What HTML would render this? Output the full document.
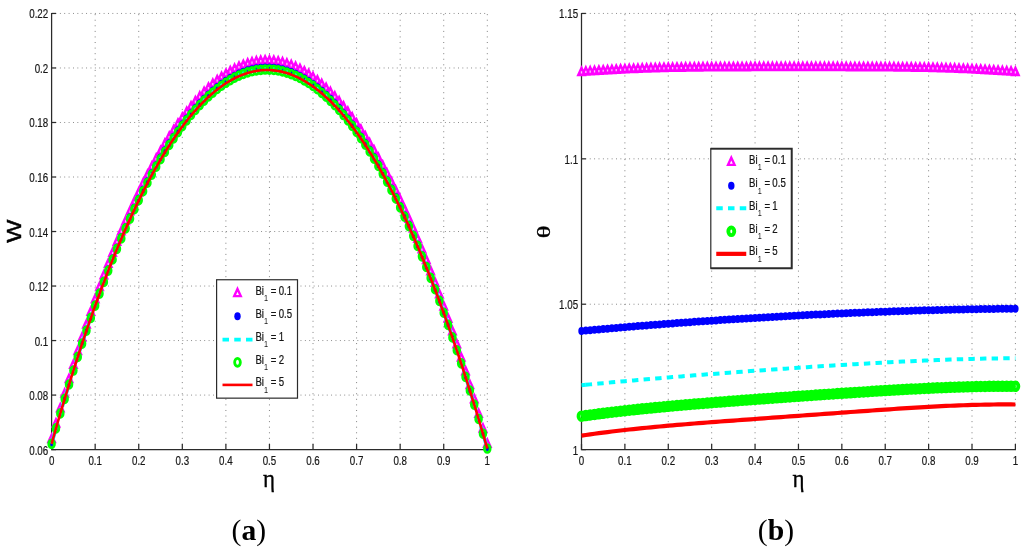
<!DOCTYPE html>
<html lang="en"><head><meta charset="utf-8"><title>Figure</title>
<style>html,body{margin:0;padding:0;background:#fff}body{width:1024px;height:553px;overflow:hidden}svg{display:block}</style></head><body>
<svg width="1024" height="553" viewBox="0 0 1024 553">
<rect width="1024" height="553" fill="#fff"/>
<defs><clipPath id="cl"><rect x="0" y="0" width="1024" height="553"/></clipPath></defs>
<g stroke="#808080" stroke-width="1" stroke-dasharray="1 4.575" fill="none"><line x1="95.17" y1="450" x2="95.17" y2="13.05"/><line x1="138.74" y1="450" x2="138.74" y2="13.05"/><line x1="182.31" y1="450" x2="182.31" y2="13.05"/><line x1="225.88" y1="450" x2="225.88" y2="13.05"/><line x1="269.45" y1="450" x2="269.45" y2="13.05"/><line x1="313.02" y1="450" x2="313.02" y2="13.05"/><line x1="356.59" y1="450" x2="356.59" y2="13.05"/><line x1="400.16" y1="450" x2="400.16" y2="13.05"/><line x1="443.73" y1="450" x2="443.73" y2="13.05"/><line x1="487.3" y1="450" x2="487.3" y2="13.05"/></g>
<g stroke="#808080" stroke-width="1" stroke-dasharray="0.9 3.475" fill="none"><line x1="55.52" y1="13.45" x2="487.7" y2="13.45"/><line x1="55.52" y1="67.97" x2="487.7" y2="67.97"/><line x1="55.52" y1="122.49" x2="487.7" y2="122.49"/><line x1="55.52" y1="177.01" x2="487.7" y2="177.01"/><line x1="55.52" y1="231.53" x2="487.7" y2="231.53"/><line x1="55.52" y1="286.04" x2="487.7" y2="286.04"/><line x1="55.52" y1="340.56" x2="487.7" y2="340.56"/><line x1="55.52" y1="395.08" x2="487.7" y2="395.08"/></g>
<g stroke="#2b2b2b" stroke-width="1.25" fill="none"><path d="M51.6 12.95V449.6H487.9"/><path d="M51.6 449.6v-5.6"/><path d="M95.17 449.6v-5.6"/><path d="M138.74 449.6v-5.6"/><path d="M182.31 449.6v-5.6"/><path d="M225.88 449.6v-5.6"/><path d="M269.45 449.6v-5.6"/><path d="M313.02 449.6v-5.6"/><path d="M356.59 449.6v-5.6"/><path d="M400.16 449.6v-5.6"/><path d="M443.73 449.6v-5.6"/><path d="M487.3 449.6v-5.6"/><path d="M51.6 13.45h4.4"/><path d="M51.6 67.97h4.4"/><path d="M51.6 122.49h4.4"/><path d="M51.6 177.01h4.4"/><path d="M51.6 231.53h4.4"/><path d="M51.6 286.04h4.4"/><path d="M51.6 340.56h4.4"/><path d="M51.6 395.08h4.4"/><path d="M51.6 449.6h4.4"/></g>
<text transform="translate(51.6,465) scale(0.8,1)" font-family="'Liberation Sans', Arial, Helvetica, sans-serif" font-size="12.2" font-weight="normal" text-anchor="middle" fill="#161616" stroke="#161616" stroke-width="0.2">0</text>
<text transform="translate(95.17,465) scale(0.8,1)" font-family="'Liberation Sans', Arial, Helvetica, sans-serif" font-size="12.2" font-weight="normal" text-anchor="middle" fill="#161616" stroke="#161616" stroke-width="0.2">0.1</text>
<text transform="translate(138.74,465) scale(0.8,1)" font-family="'Liberation Sans', Arial, Helvetica, sans-serif" font-size="12.2" font-weight="normal" text-anchor="middle" fill="#161616" stroke="#161616" stroke-width="0.2">0.2</text>
<text transform="translate(182.31,465) scale(0.8,1)" font-family="'Liberation Sans', Arial, Helvetica, sans-serif" font-size="12.2" font-weight="normal" text-anchor="middle" fill="#161616" stroke="#161616" stroke-width="0.2">0.3</text>
<text transform="translate(225.88,465) scale(0.8,1)" font-family="'Liberation Sans', Arial, Helvetica, sans-serif" font-size="12.2" font-weight="normal" text-anchor="middle" fill="#161616" stroke="#161616" stroke-width="0.2">0.4</text>
<text transform="translate(269.45,465) scale(0.8,1)" font-family="'Liberation Sans', Arial, Helvetica, sans-serif" font-size="12.2" font-weight="normal" text-anchor="middle" fill="#161616" stroke="#161616" stroke-width="0.2">0.5</text>
<text transform="translate(313.02,465) scale(0.8,1)" font-family="'Liberation Sans', Arial, Helvetica, sans-serif" font-size="12.2" font-weight="normal" text-anchor="middle" fill="#161616" stroke="#161616" stroke-width="0.2">0.6</text>
<text transform="translate(356.59,465) scale(0.8,1)" font-family="'Liberation Sans', Arial, Helvetica, sans-serif" font-size="12.2" font-weight="normal" text-anchor="middle" fill="#161616" stroke="#161616" stroke-width="0.2">0.7</text>
<text transform="translate(400.16,465) scale(0.8,1)" font-family="'Liberation Sans', Arial, Helvetica, sans-serif" font-size="12.2" font-weight="normal" text-anchor="middle" fill="#161616" stroke="#161616" stroke-width="0.2">0.8</text>
<text transform="translate(443.73,465) scale(0.8,1)" font-family="'Liberation Sans', Arial, Helvetica, sans-serif" font-size="12.2" font-weight="normal" text-anchor="middle" fill="#161616" stroke="#161616" stroke-width="0.2">0.9</text>
<text transform="translate(487.3,465) scale(0.8,1)" font-family="'Liberation Sans', Arial, Helvetica, sans-serif" font-size="12.2" font-weight="normal" text-anchor="middle" fill="#161616" stroke="#161616" stroke-width="0.2">1</text>
<text transform="translate(48.2,18.45) scale(0.8,1)" font-family="'Liberation Sans', Arial, Helvetica, sans-serif" font-size="12.2" font-weight="normal" text-anchor="end" fill="#161616" stroke="#161616" stroke-width="0.2">0.22</text>
<text transform="translate(48.2,72.97) scale(0.8,1)" font-family="'Liberation Sans', Arial, Helvetica, sans-serif" font-size="12.2" font-weight="normal" text-anchor="end" fill="#161616" stroke="#161616" stroke-width="0.2">0.2</text>
<text transform="translate(48.2,127.49) scale(0.8,1)" font-family="'Liberation Sans', Arial, Helvetica, sans-serif" font-size="12.2" font-weight="normal" text-anchor="end" fill="#161616" stroke="#161616" stroke-width="0.2">0.18</text>
<text transform="translate(48.2,182.01) scale(0.8,1)" font-family="'Liberation Sans', Arial, Helvetica, sans-serif" font-size="12.2" font-weight="normal" text-anchor="end" fill="#161616" stroke="#161616" stroke-width="0.2">0.16</text>
<text transform="translate(48.2,236.53) scale(0.8,1)" font-family="'Liberation Sans', Arial, Helvetica, sans-serif" font-size="12.2" font-weight="normal" text-anchor="end" fill="#161616" stroke="#161616" stroke-width="0.2">0.14</text>
<text transform="translate(48.2,291.04) scale(0.8,1)" font-family="'Liberation Sans', Arial, Helvetica, sans-serif" font-size="12.2" font-weight="normal" text-anchor="end" fill="#161616" stroke="#161616" stroke-width="0.2">0.12</text>
<text transform="translate(48.2,345.56) scale(0.8,1)" font-family="'Liberation Sans', Arial, Helvetica, sans-serif" font-size="12.2" font-weight="normal" text-anchor="end" fill="#161616" stroke="#161616" stroke-width="0.2">0.1</text>
<text transform="translate(48.2,400.08) scale(0.8,1)" font-family="'Liberation Sans', Arial, Helvetica, sans-serif" font-size="12.2" font-weight="normal" text-anchor="end" fill="#161616" stroke="#161616" stroke-width="0.2">0.08</text>
<text transform="translate(48.2,454.6) scale(0.8,1)" font-family="'Liberation Sans', Arial, Helvetica, sans-serif" font-size="12.2" font-weight="normal" text-anchor="end" fill="#161616" stroke="#161616" stroke-width="0.2">0.06</text>
<g>
<path d="M51.60 434.83L54.85 441.98L48.35 441.98ZM55.96 419.34L59.21 426.49L52.71 426.49ZM60.31 404.19L63.56 411.34L57.06 411.34ZM64.67 389.38L67.92 396.53L61.42 396.53ZM69.03 374.90L72.28 382.05L65.78 382.05ZM73.39 360.77L76.64 367.92L70.14 367.92ZM77.74 346.97L80.99 354.12L74.49 354.12ZM82.10 333.51L85.35 340.66L78.85 340.66ZM86.46 320.38L89.71 327.53L83.21 327.53ZM90.81 307.58L94.06 314.73L87.56 314.73ZM95.17 295.11L98.42 302.26L91.92 302.26ZM99.53 282.97L102.78 290.12L96.28 290.12ZM103.88 271.17L107.13 278.32L100.63 278.32ZM108.24 259.68L111.49 266.83L104.99 266.83ZM112.60 248.53L115.85 255.68L109.35 255.68ZM116.95 237.70L120.20 244.85L113.70 244.85ZM121.31 227.20L124.56 234.35L118.06 234.35ZM125.67 217.01L128.92 224.16L122.42 224.16ZM130.03 207.15L133.28 214.30L126.78 214.30ZM134.38 197.61L137.63 204.76L131.13 204.76ZM138.74 188.39L141.99 195.54L135.49 195.54ZM143.10 179.49L146.35 186.64L139.85 186.64ZM147.45 170.91L150.70 178.06L144.20 178.06ZM151.81 162.64L155.06 169.79L148.56 169.79ZM156.17 154.69L159.42 161.84L152.92 161.84ZM160.53 147.06L163.78 154.21L157.28 154.21ZM164.88 139.73L168.13 146.88L161.63 146.88ZM169.24 132.73L172.49 139.88L165.99 139.88ZM173.60 126.03L176.85 133.18L170.35 133.18ZM177.95 119.65L181.20 126.80L174.70 126.80ZM182.31 113.57L185.56 120.72L179.06 120.72ZM186.67 107.81L189.92 114.96L183.42 114.96ZM191.02 102.36L194.27 109.51L187.77 109.51ZM195.38 97.21L198.63 104.36L192.13 104.36ZM199.74 92.38L202.99 99.53L196.49 99.53ZM204.09 87.85L207.34 95.00L200.84 95.00ZM208.45 83.62L211.70 90.77L205.20 90.77ZM212.81 79.71L216.06 86.86L209.56 86.86ZM217.17 76.09L220.42 83.24L213.92 83.24ZM221.52 72.79L224.77 79.94L218.27 79.94ZM225.88 69.79L229.13 76.94L222.63 76.94ZM230.24 67.09L233.49 74.24L226.99 74.24ZM234.59 64.69L237.84 71.84L231.34 71.84ZM238.95 62.60L242.20 69.75L235.70 69.75ZM243.31 60.81L246.56 67.96L240.06 67.96ZM247.66 59.32L250.91 66.47L244.41 66.47ZM252.02 58.13L255.27 65.28L248.77 65.28ZM256.38 57.25L259.63 64.40L253.13 64.40ZM260.74 56.66L263.99 63.81L257.49 63.81ZM265.09 56.37L268.34 63.52L261.84 63.52ZM269.45 56.39L272.70 63.54L266.20 63.54ZM273.81 56.70L277.06 63.85L270.56 63.85ZM278.16 57.32L281.41 64.47L274.91 64.47ZM282.52 58.23L285.77 65.38L279.27 65.38ZM286.88 59.44L290.13 66.59L283.63 66.59ZM291.24 60.95L294.49 68.10L287.99 68.10ZM295.59 62.76L298.84 69.91L292.34 69.91ZM299.95 64.87L303.20 72.02L296.70 72.02ZM304.31 67.28L307.56 74.43L301.06 74.43ZM308.66 69.98L311.91 77.13L305.41 77.13ZM313.02 72.99L316.27 80.14L309.77 80.14ZM317.38 76.29L320.63 83.44L314.13 83.44ZM321.73 79.89L324.98 87.04L318.48 87.04ZM326.09 83.78L329.34 90.93L322.84 90.93ZM330.45 87.98L333.70 95.13L327.20 95.13ZM334.81 92.47L338.06 99.62L331.56 99.62ZM339.16 97.27L342.41 104.42L335.91 104.42ZM343.52 102.35L346.77 109.50L340.27 109.50ZM347.88 107.74L351.13 114.89L344.63 114.89ZM352.23 113.43L355.48 120.58L348.98 120.58ZM356.59 119.41L359.84 126.56L353.34 126.56ZM360.95 125.70L364.20 132.85L357.70 132.85ZM365.30 132.28L368.55 139.43L362.05 139.43ZM369.66 139.16L372.91 146.31L366.41 146.31ZM374.02 146.35L377.27 153.50L370.77 153.50ZM378.38 153.83L381.62 160.98L375.12 160.98ZM382.73 161.61L385.98 168.76L379.48 168.76ZM387.09 169.69L390.34 176.84L383.84 176.84ZM391.45 178.07L394.70 185.22L388.20 185.22ZM395.80 186.76L399.05 193.91L392.55 193.91ZM400.16 195.74L403.41 202.89L396.91 202.89ZM404.52 205.03L407.77 212.18L401.27 212.18ZM408.87 214.62L412.12 221.77L405.62 221.77ZM413.23 224.51L416.48 231.66L409.98 231.66ZM417.59 234.71L420.84 241.86L414.34 241.86ZM421.94 245.21L425.19 252.36L418.69 252.36ZM426.30 256.01L429.55 263.16L423.05 263.16ZM430.66 267.12L433.91 274.27L427.41 274.27ZM435.02 278.53L438.27 285.68L431.77 285.68ZM439.37 290.25L442.62 297.40L436.12 297.40ZM443.73 302.28L446.98 309.43L440.48 309.43ZM448.09 314.61L451.34 321.76L444.84 321.76ZM452.44 327.26L455.69 334.41L449.19 334.41ZM456.80 340.21L460.05 347.36L453.55 347.36ZM461.16 353.47L464.41 360.62L457.91 360.62ZM465.52 367.04L468.77 374.19L462.27 374.19ZM469.87 380.92L473.12 388.07L466.62 388.07ZM474.23 395.11L477.48 402.26L470.98 402.26ZM478.59 409.61L481.84 416.76L475.34 416.76ZM482.94 424.43L486.19 431.58L479.69 431.58ZM487.30 439.57L490.55 446.72L484.05 446.72Z" fill="#ff00ff" stroke="#ff00ff" stroke-width="2.4" stroke-linejoin="miter"/>
<path d="M50.95 438.18h1.3v2.2h-1.3zM55.31 422.69h1.3v2.2h-1.3zM59.66 407.54h1.3v2.2h-1.3zM64.02 392.73h1.3v2.2h-1.3zM68.38 378.25h1.3v2.2h-1.3zM72.73 364.12h1.3v2.2h-1.3zM77.09 350.32h1.3v2.2h-1.3zM81.45 336.86h1.3v2.2h-1.3zM85.81 323.73h1.3v2.2h-1.3zM90.16 310.93h1.3v2.2h-1.3zM94.52 298.46h1.3v2.2h-1.3zM98.88 286.32h1.3v2.2h-1.3zM103.23 274.52h1.3v2.2h-1.3zM107.59 263.03h1.3v2.2h-1.3zM111.95 251.88h1.3v2.2h-1.3zM116.30 241.05h1.3v2.2h-1.3zM120.66 230.55h1.3v2.2h-1.3zM125.02 220.36h1.3v2.2h-1.3zM129.38 210.50h1.3v2.2h-1.3zM133.73 200.96h1.3v2.2h-1.3zM138.09 191.74h1.3v2.2h-1.3zM142.45 182.84h1.3v2.2h-1.3zM146.80 174.26h1.3v2.2h-1.3zM151.16 165.99h1.3v2.2h-1.3zM155.52 158.04h1.3v2.2h-1.3zM159.88 150.41h1.3v2.2h-1.3zM164.23 143.08h1.3v2.2h-1.3zM168.59 136.08h1.3v2.2h-1.3zM172.95 129.38h1.3v2.2h-1.3zM177.30 123.00h1.3v2.2h-1.3zM181.66 116.92h1.3v2.2h-1.3zM186.02 111.16h1.3v2.2h-1.3zM190.37 105.71h1.3v2.2h-1.3zM194.73 100.56h1.3v2.2h-1.3zM199.09 95.73h1.3v2.2h-1.3zM203.44 91.20h1.3v2.2h-1.3zM207.80 86.97h1.3v2.2h-1.3zM212.16 83.06h1.3v2.2h-1.3zM216.52 79.44h1.3v2.2h-1.3zM220.87 76.14h1.3v2.2h-1.3zM225.23 73.14h1.3v2.2h-1.3zM229.59 70.44h1.3v2.2h-1.3zM233.94 68.04h1.3v2.2h-1.3zM238.30 65.95h1.3v2.2h-1.3zM242.66 64.16h1.3v2.2h-1.3zM247.01 62.67h1.3v2.2h-1.3zM251.37 61.48h1.3v2.2h-1.3zM255.73 60.60h1.3v2.2h-1.3zM260.09 60.01h1.3v2.2h-1.3zM264.44 59.72h1.3v2.2h-1.3zM268.80 59.74h1.3v2.2h-1.3zM273.16 60.05h1.3v2.2h-1.3zM277.51 60.67h1.3v2.2h-1.3zM281.87 61.58h1.3v2.2h-1.3zM286.23 62.79h1.3v2.2h-1.3zM290.59 64.30h1.3v2.2h-1.3zM294.94 66.11h1.3v2.2h-1.3zM299.30 68.22h1.3v2.2h-1.3zM303.66 70.63h1.3v2.2h-1.3zM308.01 73.33h1.3v2.2h-1.3zM312.37 76.34h1.3v2.2h-1.3zM316.73 79.64h1.3v2.2h-1.3zM321.08 83.24h1.3v2.2h-1.3zM325.44 87.13h1.3v2.2h-1.3zM329.80 91.33h1.3v2.2h-1.3zM334.16 95.82h1.3v2.2h-1.3zM338.51 100.62h1.3v2.2h-1.3zM342.87 105.70h1.3v2.2h-1.3zM347.23 111.09h1.3v2.2h-1.3zM351.58 116.78h1.3v2.2h-1.3zM355.94 122.76h1.3v2.2h-1.3zM360.30 129.05h1.3v2.2h-1.3zM364.65 135.63h1.3v2.2h-1.3zM369.01 142.51h1.3v2.2h-1.3zM373.37 149.70h1.3v2.2h-1.3zM377.73 157.18h1.3v2.2h-1.3zM382.08 164.96h1.3v2.2h-1.3zM386.44 173.04h1.3v2.2h-1.3zM390.80 181.42h1.3v2.2h-1.3zM395.15 190.11h1.3v2.2h-1.3zM399.51 199.09h1.3v2.2h-1.3zM403.87 208.38h1.3v2.2h-1.3zM408.22 217.97h1.3v2.2h-1.3zM412.58 227.86h1.3v2.2h-1.3zM416.94 238.06h1.3v2.2h-1.3zM421.30 248.56h1.3v2.2h-1.3zM425.65 259.36h1.3v2.2h-1.3zM430.01 270.47h1.3v2.2h-1.3zM434.37 281.88h1.3v2.2h-1.3zM438.72 293.60h1.3v2.2h-1.3zM443.08 305.63h1.3v2.2h-1.3zM447.44 317.96h1.3v2.2h-1.3zM451.79 330.61h1.3v2.2h-1.3zM456.15 343.56h1.3v2.2h-1.3zM460.51 356.82h1.3v2.2h-1.3zM464.87 370.39h1.3v2.2h-1.3zM469.22 384.27h1.3v2.2h-1.3zM473.58 398.46h1.3v2.2h-1.3zM477.94 412.96h1.3v2.2h-1.3zM482.29 427.78h1.3v2.2h-1.3zM486.65 442.92h1.3v2.2h-1.3z" fill="#ffbcff"/>
<path d="M48.40 443.78a3.20 4.00 0 1 0 6.40 0a3.20 4.00 0 1 0 -6.40 0ZM52.76 428.37a3.20 4.00 0 1 0 6.40 0a3.20 4.00 0 1 0 -6.40 0ZM57.11 413.30a3.20 4.00 0 1 0 6.40 0a3.20 4.00 0 1 0 -6.40 0ZM61.47 398.57a3.20 4.00 0 1 0 6.40 0a3.20 4.00 0 1 0 -6.40 0ZM65.83 384.18a3.20 4.00 0 1 0 6.40 0a3.20 4.00 0 1 0 -6.40 0ZM70.19 370.12a3.20 4.00 0 1 0 6.40 0a3.20 4.00 0 1 0 -6.40 0ZM74.54 356.39a3.20 4.00 0 1 0 6.40 0a3.20 4.00 0 1 0 -6.40 0ZM78.90 343.00a3.20 4.00 0 1 0 6.40 0a3.20 4.00 0 1 0 -6.40 0ZM83.26 329.94a3.20 4.00 0 1 0 6.40 0a3.20 4.00 0 1 0 -6.40 0ZM87.61 317.22a3.20 4.00 0 1 0 6.40 0a3.20 4.00 0 1 0 -6.40 0ZM91.97 304.82a3.20 4.00 0 1 0 6.40 0a3.20 4.00 0 1 0 -6.40 0ZM96.33 292.75a3.20 4.00 0 1 0 6.40 0a3.20 4.00 0 1 0 -6.40 0ZM100.68 281.00a3.20 4.00 0 1 0 6.40 0a3.20 4.00 0 1 0 -6.40 0ZM105.04 269.59a3.20 4.00 0 1 0 6.40 0a3.20 4.00 0 1 0 -6.40 0ZM109.40 258.49a3.20 4.00 0 1 0 6.40 0a3.20 4.00 0 1 0 -6.40 0ZM113.75 247.72a3.20 4.00 0 1 0 6.40 0a3.20 4.00 0 1 0 -6.40 0ZM118.11 237.27a3.20 4.00 0 1 0 6.40 0a3.20 4.00 0 1 0 -6.40 0ZM122.47 227.15a3.20 4.00 0 1 0 6.40 0a3.20 4.00 0 1 0 -6.40 0ZM126.83 217.34a3.20 4.00 0 1 0 6.40 0a3.20 4.00 0 1 0 -6.40 0ZM131.18 207.86a3.20 4.00 0 1 0 6.40 0a3.20 4.00 0 1 0 -6.40 0ZM135.54 198.69a3.20 4.00 0 1 0 6.40 0a3.20 4.00 0 1 0 -6.40 0ZM139.90 189.84a3.20 4.00 0 1 0 6.40 0a3.20 4.00 0 1 0 -6.40 0ZM144.25 181.30a3.20 4.00 0 1 0 6.40 0a3.20 4.00 0 1 0 -6.40 0ZM148.61 173.08a3.20 4.00 0 1 0 6.40 0a3.20 4.00 0 1 0 -6.40 0ZM152.97 165.17a3.20 4.00 0 1 0 6.40 0a3.20 4.00 0 1 0 -6.40 0ZM157.33 157.58a3.20 4.00 0 1 0 6.40 0a3.20 4.00 0 1 0 -6.40 0ZM161.68 150.30a3.20 4.00 0 1 0 6.40 0a3.20 4.00 0 1 0 -6.40 0ZM166.04 143.33a3.20 4.00 0 1 0 6.40 0a3.20 4.00 0 1 0 -6.40 0ZM170.40 136.68a3.20 4.00 0 1 0 6.40 0a3.20 4.00 0 1 0 -6.40 0ZM174.75 130.33a3.20 4.00 0 1 0 6.40 0a3.20 4.00 0 1 0 -6.40 0ZM179.11 124.29a3.20 4.00 0 1 0 6.40 0a3.20 4.00 0 1 0 -6.40 0ZM183.47 118.56a3.20 4.00 0 1 0 6.40 0a3.20 4.00 0 1 0 -6.40 0ZM187.82 113.14a3.20 4.00 0 1 0 6.40 0a3.20 4.00 0 1 0 -6.40 0ZM192.18 108.02a3.20 4.00 0 1 0 6.40 0a3.20 4.00 0 1 0 -6.40 0ZM196.54 103.21a3.20 4.00 0 1 0 6.40 0a3.20 4.00 0 1 0 -6.40 0ZM200.90 98.71a3.20 4.00 0 1 0 6.40 0a3.20 4.00 0 1 0 -6.40 0ZM205.25 94.51a3.20 4.00 0 1 0 6.40 0a3.20 4.00 0 1 0 -6.40 0ZM209.61 90.62a3.20 4.00 0 1 0 6.40 0a3.20 4.00 0 1 0 -6.40 0ZM213.97 87.02a3.20 4.00 0 1 0 6.40 0a3.20 4.00 0 1 0 -6.40 0ZM218.32 83.74a3.20 4.00 0 1 0 6.40 0a3.20 4.00 0 1 0 -6.40 0ZM222.68 80.75a3.20 4.00 0 1 0 6.40 0a3.20 4.00 0 1 0 -6.40 0ZM227.04 78.07a3.20 4.00 0 1 0 6.40 0a3.20 4.00 0 1 0 -6.40 0ZM231.39 75.69a3.20 4.00 0 1 0 6.40 0a3.20 4.00 0 1 0 -6.40 0ZM235.75 73.61a3.20 4.00 0 1 0 6.40 0a3.20 4.00 0 1 0 -6.40 0ZM240.11 71.83a3.20 4.00 0 1 0 6.40 0a3.20 4.00 0 1 0 -6.40 0ZM244.47 70.35a3.20 4.00 0 1 0 6.40 0a3.20 4.00 0 1 0 -6.40 0ZM248.82 69.17a3.20 4.00 0 1 0 6.40 0a3.20 4.00 0 1 0 -6.40 0ZM253.18 68.29a3.20 4.00 0 1 0 6.40 0a3.20 4.00 0 1 0 -6.40 0ZM257.54 67.71a3.20 4.00 0 1 0 6.40 0a3.20 4.00 0 1 0 -6.40 0ZM261.89 67.42a3.20 4.00 0 1 0 6.40 0a3.20 4.00 0 1 0 -6.40 0ZM266.25 67.44a3.20 4.00 0 1 0 6.40 0a3.20 4.00 0 1 0 -6.40 0ZM270.61 67.75a3.20 4.00 0 1 0 6.40 0a3.20 4.00 0 1 0 -6.40 0ZM274.96 68.37a3.20 4.00 0 1 0 6.40 0a3.20 4.00 0 1 0 -6.40 0ZM279.32 69.27a3.20 4.00 0 1 0 6.40 0a3.20 4.00 0 1 0 -6.40 0ZM283.68 70.48a3.20 4.00 0 1 0 6.40 0a3.20 4.00 0 1 0 -6.40 0ZM288.04 71.98a3.20 4.00 0 1 0 6.40 0a3.20 4.00 0 1 0 -6.40 0ZM292.39 73.79a3.20 4.00 0 1 0 6.40 0a3.20 4.00 0 1 0 -6.40 0ZM296.75 75.88a3.20 4.00 0 1 0 6.40 0a3.20 4.00 0 1 0 -6.40 0ZM301.11 78.28a3.20 4.00 0 1 0 6.40 0a3.20 4.00 0 1 0 -6.40 0ZM305.46 80.97a3.20 4.00 0 1 0 6.40 0a3.20 4.00 0 1 0 -6.40 0ZM309.82 83.95a3.20 4.00 0 1 0 6.40 0a3.20 4.00 0 1 0 -6.40 0ZM314.18 87.24a3.20 4.00 0 1 0 6.40 0a3.20 4.00 0 1 0 -6.40 0ZM318.53 90.82a3.20 4.00 0 1 0 6.40 0a3.20 4.00 0 1 0 -6.40 0ZM322.89 94.69a3.20 4.00 0 1 0 6.40 0a3.20 4.00 0 1 0 -6.40 0ZM327.25 98.87a3.20 4.00 0 1 0 6.40 0a3.20 4.00 0 1 0 -6.40 0ZM331.61 103.34a3.20 4.00 0 1 0 6.40 0a3.20 4.00 0 1 0 -6.40 0ZM335.96 108.10a3.20 4.00 0 1 0 6.40 0a3.20 4.00 0 1 0 -6.40 0ZM340.32 113.16a3.20 4.00 0 1 0 6.40 0a3.20 4.00 0 1 0 -6.40 0ZM344.68 118.52a3.20 4.00 0 1 0 6.40 0a3.20 4.00 0 1 0 -6.40 0ZM349.03 124.18a3.20 4.00 0 1 0 6.40 0a3.20 4.00 0 1 0 -6.40 0ZM353.39 130.13a3.20 4.00 0 1 0 6.40 0a3.20 4.00 0 1 0 -6.40 0ZM357.75 136.38a3.20 4.00 0 1 0 6.40 0a3.20 4.00 0 1 0 -6.40 0ZM362.10 142.93a3.20 4.00 0 1 0 6.40 0a3.20 4.00 0 1 0 -6.40 0ZM366.46 149.77a3.20 4.00 0 1 0 6.40 0a3.20 4.00 0 1 0 -6.40 0ZM370.82 156.91a3.20 4.00 0 1 0 6.40 0a3.20 4.00 0 1 0 -6.40 0ZM375.18 164.35a3.20 4.00 0 1 0 6.40 0a3.20 4.00 0 1 0 -6.40 0ZM379.53 172.09a3.20 4.00 0 1 0 6.40 0a3.20 4.00 0 1 0 -6.40 0ZM383.89 180.13a3.20 4.00 0 1 0 6.40 0a3.20 4.00 0 1 0 -6.40 0ZM388.25 188.47a3.20 4.00 0 1 0 6.40 0a3.20 4.00 0 1 0 -6.40 0ZM392.60 197.10a3.20 4.00 0 1 0 6.40 0a3.20 4.00 0 1 0 -6.40 0ZM396.96 206.04a3.20 4.00 0 1 0 6.40 0a3.20 4.00 0 1 0 -6.40 0ZM401.32 215.27a3.20 4.00 0 1 0 6.40 0a3.20 4.00 0 1 0 -6.40 0ZM405.67 224.81a3.20 4.00 0 1 0 6.40 0a3.20 4.00 0 1 0 -6.40 0ZM410.03 234.65a3.20 4.00 0 1 0 6.40 0a3.20 4.00 0 1 0 -6.40 0ZM414.39 244.79a3.20 4.00 0 1 0 6.40 0a3.20 4.00 0 1 0 -6.40 0ZM418.75 255.23a3.20 4.00 0 1 0 6.40 0a3.20 4.00 0 1 0 -6.40 0ZM423.10 265.97a3.20 4.00 0 1 0 6.40 0a3.20 4.00 0 1 0 -6.40 0ZM427.46 277.02a3.20 4.00 0 1 0 6.40 0a3.20 4.00 0 1 0 -6.40 0ZM431.82 288.37a3.20 4.00 0 1 0 6.40 0a3.20 4.00 0 1 0 -6.40 0ZM436.17 300.03a3.20 4.00 0 1 0 6.40 0a3.20 4.00 0 1 0 -6.40 0ZM440.53 311.99a3.20 4.00 0 1 0 6.40 0a3.20 4.00 0 1 0 -6.40 0ZM444.89 324.25a3.20 4.00 0 1 0 6.40 0a3.20 4.00 0 1 0 -6.40 0ZM449.24 336.82a3.20 4.00 0 1 0 6.40 0a3.20 4.00 0 1 0 -6.40 0ZM453.60 349.70a3.20 4.00 0 1 0 6.40 0a3.20 4.00 0 1 0 -6.40 0ZM457.96 362.89a3.20 4.00 0 1 0 6.40 0a3.20 4.00 0 1 0 -6.40 0ZM462.32 376.39a3.20 4.00 0 1 0 6.40 0a3.20 4.00 0 1 0 -6.40 0ZM466.67 390.19a3.20 4.00 0 1 0 6.40 0a3.20 4.00 0 1 0 -6.40 0ZM471.03 404.30a3.20 4.00 0 1 0 6.40 0a3.20 4.00 0 1 0 -6.40 0ZM475.39 418.73a3.20 4.00 0 1 0 6.40 0a3.20 4.00 0 1 0 -6.40 0ZM479.74 433.47a3.20 4.00 0 1 0 6.40 0a3.20 4.00 0 1 0 -6.40 0ZM484.10 448.52a3.20 4.00 0 1 0 6.40 0a3.20 4.00 0 1 0 -6.40 0Z" fill="#0000ff"/>
<path d="M51.60 443.78L55.90 428.95" fill="none" stroke="#00ffff" stroke-width="3.6"/>
<path d="M55.80 428.95L55.96 428.40L60.31 413.35L64.67 398.63L69.03 384.26L73.39 370.22L77.74 356.52L82.10 343.14L86.46 330.10L90.81 317.39L95.17 305.01L99.53 292.96L103.88 281.23L108.24 269.83L112.60 258.75L116.95 248.00L121.31 237.57L125.67 227.46L130.03 217.66L134.38 208.19L138.74 199.04L143.10 190.20L147.45 181.67L151.81 173.47L156.17 165.57L160.53 157.99L164.88 150.72L169.24 143.76L173.60 137.12L177.95 130.78L182.31 124.75L186.67 119.03L191.02 113.61L195.38 108.50L199.74 103.70L204.09 99.20L208.45 95.01L212.81 91.12L217.17 87.54L221.52 84.26L225.88 81.28L230.24 78.60L234.59 76.22L238.95 74.14L243.31 72.37L247.66 70.89L252.02 69.71L256.38 68.83L260.74 68.25L265.09 67.97L269.45 67.99L273.81 68.30L278.16 68.91L282.52 69.82L286.88 71.02L291.24 72.52L295.59 74.32L299.95 76.42L304.31 78.81L308.66 81.49L313.02 84.48L317.38 87.76L321.73 91.33L326.09 95.20L330.45 99.37L334.81 103.83L339.16 108.59L343.52 113.65L347.88 119.00L352.23 124.64L356.59 130.59L360.95 136.83L365.30 143.37L369.66 150.20L374.02 157.33L378.38 164.76L382.73 172.49L387.09 180.52L391.45 188.84L395.80 197.46L400.16 206.39L404.52 215.61L408.87 225.13L413.23 234.96L417.59 245.08L421.94 255.51L426.30 266.24L430.66 277.27L435.02 288.60L439.37 300.24L443.73 312.18L448.09 324.43L452.44 336.98L456.80 349.85L461.16 363.01L465.52 376.49L469.87 390.27L474.23 404.37L478.59 418.77L482.94 433.49L487.30 448.52" fill="none" stroke="#00ffff" stroke-width="3.6" stroke-dasharray="6.4 5.225"/>
<path d="M48.75 443.78a2.85 3.95 0 1 0 5.70 0a2.85 3.95 0 1 0 -5.70 0ZM53.11 428.46a2.85 3.95 0 1 0 5.70 0a2.85 3.95 0 1 0 -5.70 0ZM57.46 413.47a2.85 3.95 0 1 0 5.70 0a2.85 3.95 0 1 0 -5.70 0ZM61.82 398.82a2.85 3.95 0 1 0 5.70 0a2.85 3.95 0 1 0 -5.70 0ZM66.18 384.50a2.85 3.95 0 1 0 5.70 0a2.85 3.95 0 1 0 -5.70 0ZM70.54 370.52a2.85 3.95 0 1 0 5.70 0a2.85 3.95 0 1 0 -5.70 0ZM74.89 356.87a2.85 3.95 0 1 0 5.70 0a2.85 3.95 0 1 0 -5.70 0ZM79.25 343.55a2.85 3.95 0 1 0 5.70 0a2.85 3.95 0 1 0 -5.70 0ZM83.61 330.56a2.85 3.95 0 1 0 5.70 0a2.85 3.95 0 1 0 -5.70 0ZM87.96 317.90a2.85 3.95 0 1 0 5.70 0a2.85 3.95 0 1 0 -5.70 0ZM92.32 305.57a2.85 3.95 0 1 0 5.70 0a2.85 3.95 0 1 0 -5.70 0ZM96.68 293.57a2.85 3.95 0 1 0 5.70 0a2.85 3.95 0 1 0 -5.70 0ZM101.03 281.89a2.85 3.95 0 1 0 5.70 0a2.85 3.95 0 1 0 -5.70 0ZM105.39 270.53a2.85 3.95 0 1 0 5.70 0a2.85 3.95 0 1 0 -5.70 0ZM109.75 259.50a2.85 3.95 0 1 0 5.70 0a2.85 3.95 0 1 0 -5.70 0ZM114.10 248.79a2.85 3.95 0 1 0 5.70 0a2.85 3.95 0 1 0 -5.70 0ZM118.46 238.40a2.85 3.95 0 1 0 5.70 0a2.85 3.95 0 1 0 -5.70 0ZM122.82 228.33a2.85 3.95 0 1 0 5.70 0a2.85 3.95 0 1 0 -5.70 0ZM127.18 218.58a2.85 3.95 0 1 0 5.70 0a2.85 3.95 0 1 0 -5.70 0ZM131.53 209.15a2.85 3.95 0 1 0 5.70 0a2.85 3.95 0 1 0 -5.70 0ZM135.89 200.03a2.85 3.95 0 1 0 5.70 0a2.85 3.95 0 1 0 -5.70 0ZM140.25 191.23a2.85 3.95 0 1 0 5.70 0a2.85 3.95 0 1 0 -5.70 0ZM144.60 182.74a2.85 3.95 0 1 0 5.70 0a2.85 3.95 0 1 0 -5.70 0ZM148.96 174.57a2.85 3.95 0 1 0 5.70 0a2.85 3.95 0 1 0 -5.70 0ZM153.32 166.71a2.85 3.95 0 1 0 5.70 0a2.85 3.95 0 1 0 -5.70 0ZM157.68 159.16a2.85 3.95 0 1 0 5.70 0a2.85 3.95 0 1 0 -5.70 0ZM162.03 151.92a2.85 3.95 0 1 0 5.70 0a2.85 3.95 0 1 0 -5.70 0ZM166.39 144.99a2.85 3.95 0 1 0 5.70 0a2.85 3.95 0 1 0 -5.70 0ZM170.75 138.37a2.85 3.95 0 1 0 5.70 0a2.85 3.95 0 1 0 -5.70 0ZM175.10 132.06a2.85 3.95 0 1 0 5.70 0a2.85 3.95 0 1 0 -5.70 0ZM179.46 126.05a2.85 3.95 0 1 0 5.70 0a2.85 3.95 0 1 0 -5.70 0ZM183.82 120.36a2.85 3.95 0 1 0 5.70 0a2.85 3.95 0 1 0 -5.70 0ZM188.17 114.96a2.85 3.95 0 1 0 5.70 0a2.85 3.95 0 1 0 -5.70 0ZM192.53 109.88a2.85 3.95 0 1 0 5.70 0a2.85 3.95 0 1 0 -5.70 0ZM196.89 105.10a2.85 3.95 0 1 0 5.70 0a2.85 3.95 0 1 0 -5.70 0ZM201.25 100.62a2.85 3.95 0 1 0 5.70 0a2.85 3.95 0 1 0 -5.70 0ZM205.60 96.44a2.85 3.95 0 1 0 5.70 0a2.85 3.95 0 1 0 -5.70 0ZM209.96 92.57a2.85 3.95 0 1 0 5.70 0a2.85 3.95 0 1 0 -5.70 0ZM214.32 89.00a2.85 3.95 0 1 0 5.70 0a2.85 3.95 0 1 0 -5.70 0ZM218.67 85.73a2.85 3.95 0 1 0 5.70 0a2.85 3.95 0 1 0 -5.70 0ZM223.03 82.77a2.85 3.95 0 1 0 5.70 0a2.85 3.95 0 1 0 -5.70 0ZM227.39 80.10a2.85 3.95 0 1 0 5.70 0a2.85 3.95 0 1 0 -5.70 0ZM231.74 77.73a2.85 3.95 0 1 0 5.70 0a2.85 3.95 0 1 0 -5.70 0ZM236.10 75.67a2.85 3.95 0 1 0 5.70 0a2.85 3.95 0 1 0 -5.70 0ZM240.46 73.90a2.85 3.95 0 1 0 5.70 0a2.85 3.95 0 1 0 -5.70 0ZM244.81 72.43a2.85 3.95 0 1 0 5.70 0a2.85 3.95 0 1 0 -5.70 0ZM249.17 71.25a2.85 3.95 0 1 0 5.70 0a2.85 3.95 0 1 0 -5.70 0ZM253.53 70.38a2.85 3.95 0 1 0 5.70 0a2.85 3.95 0 1 0 -5.70 0ZM257.89 69.80a2.85 3.95 0 1 0 5.70 0a2.85 3.95 0 1 0 -5.70 0ZM262.24 69.52a2.85 3.95 0 1 0 5.70 0a2.85 3.95 0 1 0 -5.70 0ZM266.60 69.54a2.85 3.95 0 1 0 5.70 0a2.85 3.95 0 1 0 -5.70 0ZM270.96 69.85a2.85 3.95 0 1 0 5.70 0a2.85 3.95 0 1 0 -5.70 0ZM275.31 70.46a2.85 3.95 0 1 0 5.70 0a2.85 3.95 0 1 0 -5.70 0ZM279.67 71.37a2.85 3.95 0 1 0 5.70 0a2.85 3.95 0 1 0 -5.70 0ZM284.03 72.57a2.85 3.95 0 1 0 5.70 0a2.85 3.95 0 1 0 -5.70 0ZM288.38 74.06a2.85 3.95 0 1 0 5.70 0a2.85 3.95 0 1 0 -5.70 0ZM292.74 75.85a2.85 3.95 0 1 0 5.70 0a2.85 3.95 0 1 0 -5.70 0ZM297.10 77.94a2.85 3.95 0 1 0 5.70 0a2.85 3.95 0 1 0 -5.70 0ZM301.46 80.32a2.85 3.95 0 1 0 5.70 0a2.85 3.95 0 1 0 -5.70 0ZM305.81 83.00a2.85 3.95 0 1 0 5.70 0a2.85 3.95 0 1 0 -5.70 0ZM310.17 85.97a2.85 3.95 0 1 0 5.70 0a2.85 3.95 0 1 0 -5.70 0ZM314.53 89.24a2.85 3.95 0 1 0 5.70 0a2.85 3.95 0 1 0 -5.70 0ZM318.88 92.80a2.85 3.95 0 1 0 5.70 0a2.85 3.95 0 1 0 -5.70 0ZM323.24 96.65a2.85 3.95 0 1 0 5.70 0a2.85 3.95 0 1 0 -5.70 0ZM327.60 100.80a2.85 3.95 0 1 0 5.70 0a2.85 3.95 0 1 0 -5.70 0ZM331.95 105.25a2.85 3.95 0 1 0 5.70 0a2.85 3.95 0 1 0 -5.70 0ZM336.31 109.98a2.85 3.95 0 1 0 5.70 0a2.85 3.95 0 1 0 -5.70 0ZM340.67 115.02a2.85 3.95 0 1 0 5.70 0a2.85 3.95 0 1 0 -5.70 0ZM345.03 120.35a2.85 3.95 0 1 0 5.70 0a2.85 3.95 0 1 0 -5.70 0ZM349.38 125.97a2.85 3.95 0 1 0 5.70 0a2.85 3.95 0 1 0 -5.70 0ZM353.74 131.89a2.85 3.95 0 1 0 5.70 0a2.85 3.95 0 1 0 -5.70 0ZM358.10 138.11a2.85 3.95 0 1 0 5.70 0a2.85 3.95 0 1 0 -5.70 0ZM362.45 144.62a2.85 3.95 0 1 0 5.70 0a2.85 3.95 0 1 0 -5.70 0ZM366.81 151.43a2.85 3.95 0 1 0 5.70 0a2.85 3.95 0 1 0 -5.70 0ZM371.17 158.53a2.85 3.95 0 1 0 5.70 0a2.85 3.95 0 1 0 -5.70 0ZM375.52 165.93a2.85 3.95 0 1 0 5.70 0a2.85 3.95 0 1 0 -5.70 0ZM379.88 173.62a2.85 3.95 0 1 0 5.70 0a2.85 3.95 0 1 0 -5.70 0ZM384.24 181.62a2.85 3.95 0 1 0 5.70 0a2.85 3.95 0 1 0 -5.70 0ZM388.60 189.91a2.85 3.95 0 1 0 5.70 0a2.85 3.95 0 1 0 -5.70 0ZM392.95 198.50a2.85 3.95 0 1 0 5.70 0a2.85 3.95 0 1 0 -5.70 0ZM397.31 207.38a2.85 3.95 0 1 0 5.70 0a2.85 3.95 0 1 0 -5.70 0ZM401.67 216.57a2.85 3.95 0 1 0 5.70 0a2.85 3.95 0 1 0 -5.70 0ZM406.02 226.05a2.85 3.95 0 1 0 5.70 0a2.85 3.95 0 1 0 -5.70 0ZM410.38 235.83a2.85 3.95 0 1 0 5.70 0a2.85 3.95 0 1 0 -5.70 0ZM414.74 245.92a2.85 3.95 0 1 0 5.70 0a2.85 3.95 0 1 0 -5.70 0ZM419.09 256.30a2.85 3.95 0 1 0 5.70 0a2.85 3.95 0 1 0 -5.70 0ZM423.45 266.98a2.85 3.95 0 1 0 5.70 0a2.85 3.95 0 1 0 -5.70 0ZM427.81 277.97a2.85 3.95 0 1 0 5.70 0a2.85 3.95 0 1 0 -5.70 0ZM432.17 289.26a2.85 3.95 0 1 0 5.70 0a2.85 3.95 0 1 0 -5.70 0ZM436.52 300.85a2.85 3.95 0 1 0 5.70 0a2.85 3.95 0 1 0 -5.70 0ZM440.88 312.74a2.85 3.95 0 1 0 5.70 0a2.85 3.95 0 1 0 -5.70 0ZM445.24 324.94a2.85 3.95 0 1 0 5.70 0a2.85 3.95 0 1 0 -5.70 0ZM449.59 337.44a2.85 3.95 0 1 0 5.70 0a2.85 3.95 0 1 0 -5.70 0ZM453.95 350.25a2.85 3.95 0 1 0 5.70 0a2.85 3.95 0 1 0 -5.70 0ZM458.31 363.36a2.85 3.95 0 1 0 5.70 0a2.85 3.95 0 1 0 -5.70 0ZM462.67 376.78a2.85 3.95 0 1 0 5.70 0a2.85 3.95 0 1 0 -5.70 0ZM467.02 390.51a2.85 3.95 0 1 0 5.70 0a2.85 3.95 0 1 0 -5.70 0ZM471.38 404.55a2.85 3.95 0 1 0 5.70 0a2.85 3.95 0 1 0 -5.70 0ZM475.74 418.89a2.85 3.95 0 1 0 5.70 0a2.85 3.95 0 1 0 -5.70 0ZM480.09 433.55a2.85 3.95 0 1 0 5.70 0a2.85 3.95 0 1 0 -5.70 0ZM484.45 448.52a2.85 3.95 0 1 0 5.70 0a2.85 3.95 0 1 0 -5.70 0Z" fill="none" stroke="#00ff00" stroke-width="2.8"/>
<path d="M51.60 443.78L55.96 428.48L60.31 413.51L64.67 398.88L69.03 384.58L73.39 370.62L77.74 356.98L82.10 343.68L86.46 330.71L90.81 318.07L95.17 305.76L99.53 293.77L103.88 282.11L108.24 270.77L112.60 259.75L116.95 249.06L121.31 238.68L125.67 228.63L130.03 218.89L134.38 209.47L138.74 200.36L143.10 191.57L147.45 183.10L151.81 174.93L156.17 167.08L160.53 159.54L164.88 152.32L169.24 145.40L173.60 138.79L177.95 132.48L182.31 126.49L186.67 120.80L191.02 115.41L195.38 110.34L199.74 105.56L204.09 101.09L208.45 96.92L212.81 93.06L217.17 89.49L221.52 86.23L225.88 83.26L230.24 80.60L234.59 78.24L238.95 76.17L243.31 74.41L247.66 72.94L252.02 71.77L256.38 70.90L260.74 70.32L265.09 70.04L269.45 70.06L273.81 70.37L278.16 70.98L282.52 71.88L286.88 73.08L291.24 74.58L295.59 76.36L299.95 78.45L304.31 80.83L308.66 83.50L313.02 86.47L317.38 89.73L321.73 93.28L326.09 97.13L330.45 101.28L334.81 105.72L339.16 110.45L343.52 115.48L347.88 120.80L352.23 126.42L356.59 132.33L360.95 138.53L365.30 145.04L369.66 151.83L374.02 158.93L378.38 166.32L382.73 174.00L387.09 181.98L391.45 190.26L395.80 198.84L400.16 207.71L404.52 216.88L408.87 226.36L413.23 236.13L417.59 246.19L421.94 256.56L426.30 267.23L430.66 278.20L435.02 289.48L439.37 301.05L443.73 312.93L448.09 325.11L452.44 337.59L456.80 350.38L461.16 363.48L465.52 376.88L469.87 390.59L474.23 404.61L478.59 418.93L482.94 433.57L487.30 448.52" fill="none" stroke="#ff0000" stroke-width="2.6" stroke-linejoin="round"/>
</g>
<rect x="216.6" y="279.75" width="80.9" height="118.4" fill="#fff" stroke="#2b2b2b" stroke-width="1.2"/>
<text transform="translate(255.4,295) scale(0.79,1)" font-family="'Liberation Sans', Arial, Helvetica, sans-serif" font-size="12.2" fill="#161616" stroke="#161616" stroke-width="0.25">Bi<tspan dy="6.3" font-size="9.2" stroke="none">1</tspan><tspan dy="-6.3" dx="0.2"> = </tspan><tspan dx="-0.6">0.1</tspan></text>
<path d="M237.50 288.95L240.75 296.10L234.25 296.10Z" fill="#fff" stroke="#ff00ff" stroke-width="2.4"/>
<text transform="translate(255.4,317.6) scale(0.79,1)" font-family="'Liberation Sans', Arial, Helvetica, sans-serif" font-size="12.2" fill="#161616" stroke="#161616" stroke-width="0.25">Bi<tspan dy="6.3" font-size="9.2" stroke="none">1</tspan><tspan dy="-6.3" dx="0.2"> = </tspan><tspan dx="-0.6">0.5</tspan></text>
<path d="M234.30 316.20a3.20 4.00 0 1 0 6.40 0a3.20 4.00 0 1 0 -6.40 0Z" fill="#0000ff"/>
<text transform="translate(255.4,341) scale(0.79,1)" font-family="'Liberation Sans', Arial, Helvetica, sans-serif" font-size="12.2" fill="#161616" stroke="#161616" stroke-width="0.25">Bi<tspan dy="6.3" font-size="9.2" stroke="none">1</tspan><tspan dy="-6.3" dx="0.2"> = </tspan><tspan dx="-0.6">1</tspan></text>
<path d="M222.5 339.6H252.5" stroke="#00ffff" stroke-width="3.6" stroke-dasharray="6.5 5.25" fill="none"/>
<text transform="translate(255.4,363.7) scale(0.79,1)" font-family="'Liberation Sans', Arial, Helvetica, sans-serif" font-size="12.2" fill="#161616" stroke="#161616" stroke-width="0.25">Bi<tspan dy="6.3" font-size="9.2" stroke="none">1</tspan><tspan dy="-6.3" dx="0.2"> = </tspan><tspan dx="-0.6">2</tspan></text>
<path d="M234.65 362.30a2.85 3.95 0 1 0 5.70 0a2.85 3.95 0 1 0 -5.70 0Z" fill="none" stroke="#00ff00" stroke-width="2.8"/>
<text transform="translate(255.4,386.3) scale(0.79,1)" font-family="'Liberation Sans', Arial, Helvetica, sans-serif" font-size="12.2" fill="#161616" stroke="#161616" stroke-width="0.25">Bi<tspan dy="6.3" font-size="9.2" stroke="none">1</tspan><tspan dy="-6.3" dx="0.2"> = </tspan><tspan dx="-0.6">5</tspan></text>
<path d="M222.5 384.9H252.5" stroke="#ff0000" stroke-width="2.6" fill="none"/>
<text transform="translate(269.1,486.9) scale(0.9,1)" font-family="'Liberation Serif', 'Times New Roman', serif" font-size="25.5" font-weight="normal" text-anchor="middle" fill="#000" stroke="#000" stroke-width="0.35">η</text>
<text transform="translate(20.8,231.3) rotate(-90) scale(1,0.8)" font-family="'Liberation Sans', Arial, Helvetica, sans-serif" font-size="24.5" text-anchor="middle" fill="#000" stroke="#000" stroke-width="0.55">W</text>
<text x="248.8" y="540.3" font-family="'Liberation Serif', 'Times New Roman', serif" font-size="29.6" text-anchor="middle" fill="#000">(<tspan font-weight="bold">a</tspan>)</text>
<g stroke="#808080" stroke-width="1" stroke-dasharray="1 4.575" fill="none"><line x1="624.89" y1="450" x2="624.89" y2="13.05"/><line x1="668.28" y1="450" x2="668.28" y2="13.05"/><line x1="711.67" y1="450" x2="711.67" y2="13.05"/><line x1="755.06" y1="450" x2="755.06" y2="13.05"/><line x1="798.45" y1="450" x2="798.45" y2="13.05"/><line x1="841.84" y1="450" x2="841.84" y2="13.05"/><line x1="885.23" y1="450" x2="885.23" y2="13.05"/><line x1="928.62" y1="450" x2="928.62" y2="13.05"/><line x1="972.01" y1="450" x2="972.01" y2="13.05"/><line x1="1015.4" y1="450" x2="1015.4" y2="13.05"/></g>
<g stroke="#808080" stroke-width="1" stroke-dasharray="0.9 3.475" fill="none"><line x1="585.42" y1="13.45" x2="1015.8" y2="13.45"/><line x1="585.42" y1="158.83" x2="1015.8" y2="158.83"/><line x1="585.42" y1="304.22" x2="1015.8" y2="304.22"/></g>
<g stroke="#2b2b2b" stroke-width="1.25" fill="none"><path d="M581.5 12.95V449.6H1016"/><path d="M581.5 449.6v-5.6"/><path d="M624.89 449.6v-5.6"/><path d="M668.28 449.6v-5.6"/><path d="M711.67 449.6v-5.6"/><path d="M755.06 449.6v-5.6"/><path d="M798.45 449.6v-5.6"/><path d="M841.84 449.6v-5.6"/><path d="M885.23 449.6v-5.6"/><path d="M928.62 449.6v-5.6"/><path d="M972.01 449.6v-5.6"/><path d="M1015.4 449.6v-5.6"/><path d="M581.5 13.45h4.4"/><path d="M581.5 158.83h4.4"/><path d="M581.5 304.22h4.4"/><path d="M581.5 449.6h4.4"/></g>
<text transform="translate(581.5,465) scale(0.8,1)" font-family="'Liberation Sans', Arial, Helvetica, sans-serif" font-size="12.2" font-weight="normal" text-anchor="middle" fill="#161616" stroke="#161616" stroke-width="0.2">0</text>
<text transform="translate(624.89,465) scale(0.8,1)" font-family="'Liberation Sans', Arial, Helvetica, sans-serif" font-size="12.2" font-weight="normal" text-anchor="middle" fill="#161616" stroke="#161616" stroke-width="0.2">0.1</text>
<text transform="translate(668.28,465) scale(0.8,1)" font-family="'Liberation Sans', Arial, Helvetica, sans-serif" font-size="12.2" font-weight="normal" text-anchor="middle" fill="#161616" stroke="#161616" stroke-width="0.2">0.2</text>
<text transform="translate(711.67,465) scale(0.8,1)" font-family="'Liberation Sans', Arial, Helvetica, sans-serif" font-size="12.2" font-weight="normal" text-anchor="middle" fill="#161616" stroke="#161616" stroke-width="0.2">0.3</text>
<text transform="translate(755.06,465) scale(0.8,1)" font-family="'Liberation Sans', Arial, Helvetica, sans-serif" font-size="12.2" font-weight="normal" text-anchor="middle" fill="#161616" stroke="#161616" stroke-width="0.2">0.4</text>
<text transform="translate(798.45,465) scale(0.8,1)" font-family="'Liberation Sans', Arial, Helvetica, sans-serif" font-size="12.2" font-weight="normal" text-anchor="middle" fill="#161616" stroke="#161616" stroke-width="0.2">0.5</text>
<text transform="translate(841.84,465) scale(0.8,1)" font-family="'Liberation Sans', Arial, Helvetica, sans-serif" font-size="12.2" font-weight="normal" text-anchor="middle" fill="#161616" stroke="#161616" stroke-width="0.2">0.6</text>
<text transform="translate(885.23,465) scale(0.8,1)" font-family="'Liberation Sans', Arial, Helvetica, sans-serif" font-size="12.2" font-weight="normal" text-anchor="middle" fill="#161616" stroke="#161616" stroke-width="0.2">0.7</text>
<text transform="translate(928.62,465) scale(0.8,1)" font-family="'Liberation Sans', Arial, Helvetica, sans-serif" font-size="12.2" font-weight="normal" text-anchor="middle" fill="#161616" stroke="#161616" stroke-width="0.2">0.8</text>
<text transform="translate(972.01,465) scale(0.8,1)" font-family="'Liberation Sans', Arial, Helvetica, sans-serif" font-size="12.2" font-weight="normal" text-anchor="middle" fill="#161616" stroke="#161616" stroke-width="0.2">0.9</text>
<text transform="translate(1015.4,465) scale(0.8,1)" font-family="'Liberation Sans', Arial, Helvetica, sans-serif" font-size="12.2" font-weight="normal" text-anchor="middle" fill="#161616" stroke="#161616" stroke-width="0.2">1</text>
<text transform="translate(578.1,18.45) scale(0.8,1)" font-family="'Liberation Sans', Arial, Helvetica, sans-serif" font-size="12.2" font-weight="normal" text-anchor="end" fill="#161616" stroke="#161616" stroke-width="0.2">1.15</text>
<text transform="translate(578.1,163.83) scale(0.8,1)" font-family="'Liberation Sans', Arial, Helvetica, sans-serif" font-size="12.2" font-weight="normal" text-anchor="end" fill="#161616" stroke="#161616" stroke-width="0.2">1.1</text>
<text transform="translate(578.1,309.22) scale(0.8,1)" font-family="'Liberation Sans', Arial, Helvetica, sans-serif" font-size="12.2" font-weight="normal" text-anchor="end" fill="#161616" stroke="#161616" stroke-width="0.2">1.05</text>
<text transform="translate(578.1,454.6) scale(0.8,1)" font-family="'Liberation Sans', Arial, Helvetica, sans-serif" font-size="12.2" font-weight="normal" text-anchor="end" fill="#161616" stroke="#161616" stroke-width="0.2">1</text>
<g>
<path d="M581.50 67.85L584.75 75.00L578.25 75.00ZM585.84 67.51L589.09 74.66L582.59 74.66ZM590.18 67.19L593.43 74.34L586.93 74.34ZM594.52 66.88L597.77 74.03L591.27 74.03ZM598.86 66.59L602.11 73.74L595.61 73.74ZM603.20 66.32L606.45 73.47L599.95 73.47ZM607.53 66.06L610.78 73.21L604.28 73.21ZM611.87 65.82L615.12 72.97L608.62 72.97ZM616.21 65.59L619.46 72.74L612.96 72.74ZM620.55 65.37L623.80 72.52L617.30 72.52ZM624.89 65.17L628.14 72.32L621.64 72.32ZM629.23 64.98L632.48 72.13L625.98 72.13ZM633.57 64.81L636.82 71.96L630.32 71.96ZM637.91 64.64L641.16 71.79L634.66 71.79ZM642.25 64.49L645.50 71.64L639.00 71.64ZM646.59 64.34L649.84 71.49L643.34 71.49ZM650.92 64.21L654.17 71.36L647.67 71.36ZM655.26 64.09L658.51 71.24L652.01 71.24ZM659.60 63.97L662.85 71.12L656.35 71.12ZM663.94 63.87L667.19 71.02L660.69 71.02ZM668.28 63.77L671.53 70.92L665.03 70.92ZM672.62 63.68L675.87 70.83L669.37 70.83ZM676.96 63.60L680.21 70.75L673.71 70.75ZM681.30 63.53L684.55 70.68L678.05 70.68ZM685.64 63.46L688.89 70.61L682.39 70.61ZM689.98 63.40L693.23 70.55L686.73 70.55ZM694.31 63.35L697.56 70.50L691.06 70.50ZM698.65 63.30L701.90 70.45L695.40 70.45ZM702.99 63.25L706.24 70.40L699.74 70.40ZM707.33 63.21L710.58 70.36L704.08 70.36ZM711.67 63.18L714.92 70.33L708.42 70.33ZM716.01 63.15L719.26 70.30L712.76 70.30ZM720.35 63.12L723.60 70.27L717.10 70.27ZM724.69 63.10L727.94 70.25L721.44 70.25ZM729.03 63.08L732.28 70.23L725.78 70.23ZM733.37 63.06L736.62 70.21L730.12 70.21ZM737.70 63.05L740.95 70.20L734.45 70.20ZM742.04 63.04L745.29 70.19L738.79 70.19ZM746.38 63.03L749.63 70.18L743.13 70.18ZM750.72 63.02L753.97 70.17L747.47 70.17ZM755.06 63.01L758.31 70.16L751.81 70.16ZM759.40 63.01L762.65 70.16L756.15 70.16ZM763.74 63.01L766.99 70.16L760.49 70.16ZM768.08 63.00L771.33 70.15L764.83 70.15ZM772.42 63.00L775.67 70.15L769.17 70.15ZM776.75 63.00L780.00 70.15L773.50 70.15ZM781.09 63.00L784.34 70.15L777.84 70.15ZM785.43 63.00L788.68 70.15L782.18 70.15ZM789.77 63.00L793.02 70.15L786.52 70.15ZM794.11 63.00L797.36 70.15L790.86 70.15ZM798.45 63.00L801.70 70.15L795.20 70.15ZM802.79 63.00L806.04 70.15L799.54 70.15ZM807.13 63.00L810.38 70.15L803.88 70.15ZM811.47 63.00L814.72 70.15L808.22 70.15ZM815.81 63.00L819.06 70.15L812.56 70.15ZM820.14 63.00L823.39 70.15L816.89 70.15ZM824.48 63.00L827.73 70.15L821.23 70.15ZM828.82 63.00L832.07 70.15L825.57 70.15ZM833.16 63.01L836.41 70.16L829.91 70.16ZM837.50 63.01L840.75 70.16L834.25 70.16ZM841.84 63.01L845.09 70.16L838.59 70.16ZM846.18 63.02L849.43 70.17L842.93 70.17ZM850.52 63.03L853.77 70.18L847.27 70.18ZM854.86 63.04L858.11 70.19L851.61 70.19ZM859.20 63.05L862.45 70.20L855.95 70.20ZM863.53 63.06L866.78 70.21L860.28 70.21ZM867.87 63.08L871.12 70.23L864.62 70.23ZM872.21 63.10L875.46 70.25L868.96 70.25ZM876.55 63.12L879.80 70.27L873.30 70.27ZM880.89 63.15L884.14 70.30L877.64 70.30ZM885.23 63.18L888.48 70.33L881.98 70.33ZM889.57 63.21L892.82 70.36L886.32 70.36ZM893.91 63.25L897.16 70.40L890.66 70.40ZM898.25 63.30L901.50 70.45L895.00 70.45ZM902.59 63.35L905.84 70.50L899.34 70.50ZM906.92 63.40L910.17 70.55L903.67 70.55ZM911.26 63.46L914.51 70.61L908.01 70.61ZM915.60 63.53L918.85 70.68L912.35 70.68ZM919.94 63.60L923.19 70.75L916.69 70.75ZM924.28 63.68L927.53 70.83L921.03 70.83ZM928.62 63.77L931.87 70.92L925.37 70.92ZM932.96 63.87L936.21 71.02L929.71 71.02ZM937.30 63.97L940.55 71.12L934.05 71.12ZM941.64 64.09L944.89 71.24L938.39 71.24ZM945.98 64.21L949.23 71.36L942.73 71.36ZM950.32 64.34L953.57 71.49L947.07 71.49ZM954.65 64.49L957.90 71.64L951.40 71.64ZM958.99 64.64L962.24 71.79L955.74 71.79ZM963.33 64.81L966.58 71.96L960.08 71.96ZM967.67 64.98L970.92 72.13L964.42 72.13ZM972.01 65.17L975.26 72.32L968.76 72.32ZM976.35 65.37L979.60 72.52L973.10 72.52ZM980.69 65.59L983.94 72.74L977.44 72.74ZM985.03 65.82L988.28 72.97L981.78 72.97ZM989.37 66.06L992.62 73.21L986.12 73.21ZM993.70 66.32L996.95 73.47L990.45 73.47ZM998.04 66.59L1001.29 73.74L994.79 73.74ZM1002.38 66.88L1005.63 74.03L999.13 74.03ZM1006.72 67.19L1009.97 74.34L1003.47 74.34ZM1011.06 67.51L1014.31 74.66L1007.81 74.66ZM1015.40 67.85L1018.65 75.00L1012.15 75.00Z" fill="#ff00ff" stroke="#ff00ff" stroke-width="2.4" stroke-linejoin="miter"/>
<path d="M580.85 71.20h1.3v2.2h-1.3zM585.19 70.86h1.3v2.2h-1.3zM589.53 70.54h1.3v2.2h-1.3zM593.87 70.23h1.3v2.2h-1.3zM598.21 69.94h1.3v2.2h-1.3zM602.55 69.67h1.3v2.2h-1.3zM606.88 69.41h1.3v2.2h-1.3zM611.22 69.17h1.3v2.2h-1.3zM615.56 68.94h1.3v2.2h-1.3zM619.90 68.72h1.3v2.2h-1.3zM624.24 68.52h1.3v2.2h-1.3zM628.58 68.33h1.3v2.2h-1.3zM632.92 68.16h1.3v2.2h-1.3zM637.26 67.99h1.3v2.2h-1.3zM641.60 67.84h1.3v2.2h-1.3zM645.94 67.69h1.3v2.2h-1.3zM650.27 67.56h1.3v2.2h-1.3zM654.61 67.44h1.3v2.2h-1.3zM658.95 67.32h1.3v2.2h-1.3zM663.29 67.22h1.3v2.2h-1.3zM667.63 67.12h1.3v2.2h-1.3zM671.97 67.03h1.3v2.2h-1.3zM676.31 66.95h1.3v2.2h-1.3zM680.65 66.88h1.3v2.2h-1.3zM684.99 66.81h1.3v2.2h-1.3zM689.33 66.75h1.3v2.2h-1.3zM693.66 66.70h1.3v2.2h-1.3zM698.00 66.65h1.3v2.2h-1.3zM702.34 66.60h1.3v2.2h-1.3zM706.68 66.56h1.3v2.2h-1.3zM711.02 66.53h1.3v2.2h-1.3zM715.36 66.50h1.3v2.2h-1.3zM719.70 66.47h1.3v2.2h-1.3zM724.04 66.45h1.3v2.2h-1.3zM728.38 66.43h1.3v2.2h-1.3zM732.72 66.41h1.3v2.2h-1.3zM737.05 66.40h1.3v2.2h-1.3zM741.39 66.39h1.3v2.2h-1.3zM745.73 66.38h1.3v2.2h-1.3zM750.07 66.37h1.3v2.2h-1.3zM754.41 66.36h1.3v2.2h-1.3zM758.75 66.36h1.3v2.2h-1.3zM763.09 66.36h1.3v2.2h-1.3zM767.43 66.35h1.3v2.2h-1.3zM771.77 66.35h1.3v2.2h-1.3zM776.11 66.35h1.3v2.2h-1.3zM780.44 66.35h1.3v2.2h-1.3zM784.78 66.35h1.3v2.2h-1.3zM789.12 66.35h1.3v2.2h-1.3zM793.46 66.35h1.3v2.2h-1.3zM797.80 66.35h1.3v2.2h-1.3zM802.14 66.35h1.3v2.2h-1.3zM806.48 66.35h1.3v2.2h-1.3zM810.82 66.35h1.3v2.2h-1.3zM815.16 66.35h1.3v2.2h-1.3zM819.50 66.35h1.3v2.2h-1.3zM823.83 66.35h1.3v2.2h-1.3zM828.17 66.35h1.3v2.2h-1.3zM832.51 66.36h1.3v2.2h-1.3zM836.85 66.36h1.3v2.2h-1.3zM841.19 66.36h1.3v2.2h-1.3zM845.53 66.37h1.3v2.2h-1.3zM849.87 66.38h1.3v2.2h-1.3zM854.21 66.39h1.3v2.2h-1.3zM858.55 66.40h1.3v2.2h-1.3zM862.88 66.41h1.3v2.2h-1.3zM867.22 66.43h1.3v2.2h-1.3zM871.56 66.45h1.3v2.2h-1.3zM875.90 66.47h1.3v2.2h-1.3zM880.24 66.50h1.3v2.2h-1.3zM884.58 66.53h1.3v2.2h-1.3zM888.92 66.56h1.3v2.2h-1.3zM893.26 66.60h1.3v2.2h-1.3zM897.60 66.65h1.3v2.2h-1.3zM901.94 66.70h1.3v2.2h-1.3zM906.27 66.75h1.3v2.2h-1.3zM910.61 66.81h1.3v2.2h-1.3zM914.95 66.88h1.3v2.2h-1.3zM919.29 66.95h1.3v2.2h-1.3zM923.63 67.03h1.3v2.2h-1.3zM927.97 67.12h1.3v2.2h-1.3zM932.31 67.22h1.3v2.2h-1.3zM936.65 67.32h1.3v2.2h-1.3zM940.99 67.44h1.3v2.2h-1.3zM945.33 67.56h1.3v2.2h-1.3zM949.67 67.69h1.3v2.2h-1.3zM954.00 67.84h1.3v2.2h-1.3zM958.34 67.99h1.3v2.2h-1.3zM962.68 68.16h1.3v2.2h-1.3zM967.02 68.33h1.3v2.2h-1.3zM971.36 68.52h1.3v2.2h-1.3zM975.70 68.72h1.3v2.2h-1.3zM980.04 68.94h1.3v2.2h-1.3zM984.38 69.17h1.3v2.2h-1.3zM988.72 69.41h1.3v2.2h-1.3zM993.05 69.67h1.3v2.2h-1.3zM997.39 69.94h1.3v2.2h-1.3zM1001.73 70.23h1.3v2.2h-1.3zM1006.07 70.54h1.3v2.2h-1.3zM1010.41 70.86h1.3v2.2h-1.3zM1014.75 71.20h1.3v2.2h-1.3z" fill="#ffbcff"/>
<path d="M578.30 330.93a3.20 4.00 0 1 0 6.40 0a3.20 4.00 0 1 0 -6.40 0ZM582.64 330.54a3.20 4.00 0 1 0 6.40 0a3.20 4.00 0 1 0 -6.40 0ZM586.98 330.15a3.20 4.00 0 1 0 6.40 0a3.20 4.00 0 1 0 -6.40 0ZM591.32 329.76a3.20 4.00 0 1 0 6.40 0a3.20 4.00 0 1 0 -6.40 0ZM595.66 329.38a3.20 4.00 0 1 0 6.40 0a3.20 4.00 0 1 0 -6.40 0ZM600.00 329.00a3.20 4.00 0 1 0 6.40 0a3.20 4.00 0 1 0 -6.40 0ZM604.33 328.63a3.20 4.00 0 1 0 6.40 0a3.20 4.00 0 1 0 -6.40 0ZM608.67 328.26a3.20 4.00 0 1 0 6.40 0a3.20 4.00 0 1 0 -6.40 0ZM613.01 327.89a3.20 4.00 0 1 0 6.40 0a3.20 4.00 0 1 0 -6.40 0ZM617.35 327.52a3.20 4.00 0 1 0 6.40 0a3.20 4.00 0 1 0 -6.40 0ZM621.69 327.16a3.20 4.00 0 1 0 6.40 0a3.20 4.00 0 1 0 -6.40 0ZM626.03 326.81a3.20 4.00 0 1 0 6.40 0a3.20 4.00 0 1 0 -6.40 0ZM630.37 326.45a3.20 4.00 0 1 0 6.40 0a3.20 4.00 0 1 0 -6.40 0ZM634.71 326.10a3.20 4.00 0 1 0 6.40 0a3.20 4.00 0 1 0 -6.40 0ZM639.05 325.76a3.20 4.00 0 1 0 6.40 0a3.20 4.00 0 1 0 -6.40 0ZM643.38 325.41a3.20 4.00 0 1 0 6.40 0a3.20 4.00 0 1 0 -6.40 0ZM647.72 325.07a3.20 4.00 0 1 0 6.40 0a3.20 4.00 0 1 0 -6.40 0ZM652.06 324.74a3.20 4.00 0 1 0 6.40 0a3.20 4.00 0 1 0 -6.40 0ZM656.40 324.41a3.20 4.00 0 1 0 6.40 0a3.20 4.00 0 1 0 -6.40 0ZM660.74 324.08a3.20 4.00 0 1 0 6.40 0a3.20 4.00 0 1 0 -6.40 0ZM665.08 323.75a3.20 4.00 0 1 0 6.40 0a3.20 4.00 0 1 0 -6.40 0ZM669.42 323.43a3.20 4.00 0 1 0 6.40 0a3.20 4.00 0 1 0 -6.40 0ZM673.76 323.11a3.20 4.00 0 1 0 6.40 0a3.20 4.00 0 1 0 -6.40 0ZM678.10 322.79a3.20 4.00 0 1 0 6.40 0a3.20 4.00 0 1 0 -6.40 0ZM682.44 322.48a3.20 4.00 0 1 0 6.40 0a3.20 4.00 0 1 0 -6.40 0ZM686.77 322.17a3.20 4.00 0 1 0 6.40 0a3.20 4.00 0 1 0 -6.40 0ZM691.11 321.87a3.20 4.00 0 1 0 6.40 0a3.20 4.00 0 1 0 -6.40 0ZM695.45 321.56a3.20 4.00 0 1 0 6.40 0a3.20 4.00 0 1 0 -6.40 0ZM699.79 321.26a3.20 4.00 0 1 0 6.40 0a3.20 4.00 0 1 0 -6.40 0ZM704.13 320.97a3.20 4.00 0 1 0 6.40 0a3.20 4.00 0 1 0 -6.40 0ZM708.47 320.67a3.20 4.00 0 1 0 6.40 0a3.20 4.00 0 1 0 -6.40 0ZM712.81 320.39a3.20 4.00 0 1 0 6.40 0a3.20 4.00 0 1 0 -6.40 0ZM717.15 320.10a3.20 4.00 0 1 0 6.40 0a3.20 4.00 0 1 0 -6.40 0ZM721.49 319.82a3.20 4.00 0 1 0 6.40 0a3.20 4.00 0 1 0 -6.40 0ZM725.83 319.54a3.20 4.00 0 1 0 6.40 0a3.20 4.00 0 1 0 -6.40 0ZM730.16 319.26a3.20 4.00 0 1 0 6.40 0a3.20 4.00 0 1 0 -6.40 0ZM734.50 318.99a3.20 4.00 0 1 0 6.40 0a3.20 4.00 0 1 0 -6.40 0ZM738.84 318.72a3.20 4.00 0 1 0 6.40 0a3.20 4.00 0 1 0 -6.40 0ZM743.18 318.45a3.20 4.00 0 1 0 6.40 0a3.20 4.00 0 1 0 -6.40 0ZM747.52 318.19a3.20 4.00 0 1 0 6.40 0a3.20 4.00 0 1 0 -6.40 0ZM751.86 317.92a3.20 4.00 0 1 0 6.40 0a3.20 4.00 0 1 0 -6.40 0ZM756.20 317.67a3.20 4.00 0 1 0 6.40 0a3.20 4.00 0 1 0 -6.40 0ZM760.54 317.41a3.20 4.00 0 1 0 6.40 0a3.20 4.00 0 1 0 -6.40 0ZM764.88 317.16a3.20 4.00 0 1 0 6.40 0a3.20 4.00 0 1 0 -6.40 0ZM769.22 316.92a3.20 4.00 0 1 0 6.40 0a3.20 4.00 0 1 0 -6.40 0ZM773.55 316.67a3.20 4.00 0 1 0 6.40 0a3.20 4.00 0 1 0 -6.40 0ZM777.89 316.43a3.20 4.00 0 1 0 6.40 0a3.20 4.00 0 1 0 -6.40 0ZM782.23 316.19a3.20 4.00 0 1 0 6.40 0a3.20 4.00 0 1 0 -6.40 0ZM786.57 315.96a3.20 4.00 0 1 0 6.40 0a3.20 4.00 0 1 0 -6.40 0ZM790.91 315.73a3.20 4.00 0 1 0 6.40 0a3.20 4.00 0 1 0 -6.40 0ZM795.25 315.50a3.20 4.00 0 1 0 6.40 0a3.20 4.00 0 1 0 -6.40 0ZM799.59 315.27a3.20 4.00 0 1 0 6.40 0a3.20 4.00 0 1 0 -6.40 0ZM803.93 315.05a3.20 4.00 0 1 0 6.40 0a3.20 4.00 0 1 0 -6.40 0ZM808.27 314.83a3.20 4.00 0 1 0 6.40 0a3.20 4.00 0 1 0 -6.40 0ZM812.61 314.62a3.20 4.00 0 1 0 6.40 0a3.20 4.00 0 1 0 -6.40 0ZM816.94 314.41a3.20 4.00 0 1 0 6.40 0a3.20 4.00 0 1 0 -6.40 0ZM821.28 314.20a3.20 4.00 0 1 0 6.40 0a3.20 4.00 0 1 0 -6.40 0ZM825.62 313.99a3.20 4.00 0 1 0 6.40 0a3.20 4.00 0 1 0 -6.40 0ZM829.96 313.79a3.20 4.00 0 1 0 6.40 0a3.20 4.00 0 1 0 -6.40 0ZM834.30 313.59a3.20 4.00 0 1 0 6.40 0a3.20 4.00 0 1 0 -6.40 0ZM838.64 313.40a3.20 4.00 0 1 0 6.40 0a3.20 4.00 0 1 0 -6.40 0ZM842.98 313.21a3.20 4.00 0 1 0 6.40 0a3.20 4.00 0 1 0 -6.40 0ZM847.32 313.02a3.20 4.00 0 1 0 6.40 0a3.20 4.00 0 1 0 -6.40 0ZM851.66 312.83a3.20 4.00 0 1 0 6.40 0a3.20 4.00 0 1 0 -6.40 0ZM856.00 312.65a3.20 4.00 0 1 0 6.40 0a3.20 4.00 0 1 0 -6.40 0ZM860.33 312.47a3.20 4.00 0 1 0 6.40 0a3.20 4.00 0 1 0 -6.40 0ZM864.67 312.30a3.20 4.00 0 1 0 6.40 0a3.20 4.00 0 1 0 -6.40 0ZM869.01 312.13a3.20 4.00 0 1 0 6.40 0a3.20 4.00 0 1 0 -6.40 0ZM873.35 311.96a3.20 4.00 0 1 0 6.40 0a3.20 4.00 0 1 0 -6.40 0ZM877.69 311.80a3.20 4.00 0 1 0 6.40 0a3.20 4.00 0 1 0 -6.40 0ZM882.03 311.64a3.20 4.00 0 1 0 6.40 0a3.20 4.00 0 1 0 -6.40 0ZM886.37 311.48a3.20 4.00 0 1 0 6.40 0a3.20 4.00 0 1 0 -6.40 0ZM890.71 311.33a3.20 4.00 0 1 0 6.40 0a3.20 4.00 0 1 0 -6.40 0ZM895.05 311.18a3.20 4.00 0 1 0 6.40 0a3.20 4.00 0 1 0 -6.40 0ZM899.39 311.04a3.20 4.00 0 1 0 6.40 0a3.20 4.00 0 1 0 -6.40 0ZM903.72 310.90a3.20 4.00 0 1 0 6.40 0a3.20 4.00 0 1 0 -6.40 0ZM908.06 310.76a3.20 4.00 0 1 0 6.40 0a3.20 4.00 0 1 0 -6.40 0ZM912.40 310.62a3.20 4.00 0 1 0 6.40 0a3.20 4.00 0 1 0 -6.40 0ZM916.74 310.49a3.20 4.00 0 1 0 6.40 0a3.20 4.00 0 1 0 -6.40 0ZM921.08 310.37a3.20 4.00 0 1 0 6.40 0a3.20 4.00 0 1 0 -6.40 0ZM925.42 310.25a3.20 4.00 0 1 0 6.40 0a3.20 4.00 0 1 0 -6.40 0ZM929.76 310.13a3.20 4.00 0 1 0 6.40 0a3.20 4.00 0 1 0 -6.40 0ZM934.10 310.01a3.20 4.00 0 1 0 6.40 0a3.20 4.00 0 1 0 -6.40 0ZM938.44 309.90a3.20 4.00 0 1 0 6.40 0a3.20 4.00 0 1 0 -6.40 0ZM942.78 309.80a3.20 4.00 0 1 0 6.40 0a3.20 4.00 0 1 0 -6.40 0ZM947.12 309.69a3.20 4.00 0 1 0 6.40 0a3.20 4.00 0 1 0 -6.40 0ZM951.45 309.60a3.20 4.00 0 1 0 6.40 0a3.20 4.00 0 1 0 -6.40 0ZM955.79 309.50a3.20 4.00 0 1 0 6.40 0a3.20 4.00 0 1 0 -6.40 0ZM960.13 309.41a3.20 4.00 0 1 0 6.40 0a3.20 4.00 0 1 0 -6.40 0ZM964.47 309.33a3.20 4.00 0 1 0 6.40 0a3.20 4.00 0 1 0 -6.40 0ZM968.81 309.25a3.20 4.00 0 1 0 6.40 0a3.20 4.00 0 1 0 -6.40 0ZM973.15 309.17a3.20 4.00 0 1 0 6.40 0a3.20 4.00 0 1 0 -6.40 0ZM977.49 309.10a3.20 4.00 0 1 0 6.40 0a3.20 4.00 0 1 0 -6.40 0ZM981.83 309.03a3.20 4.00 0 1 0 6.40 0a3.20 4.00 0 1 0 -6.40 0ZM986.17 308.96a3.20 4.00 0 1 0 6.40 0a3.20 4.00 0 1 0 -6.40 0ZM990.50 308.91a3.20 4.00 0 1 0 6.40 0a3.20 4.00 0 1 0 -6.40 0ZM994.84 308.85a3.20 4.00 0 1 0 6.40 0a3.20 4.00 0 1 0 -6.40 0ZM999.18 308.80a3.20 4.00 0 1 0 6.40 0a3.20 4.00 0 1 0 -6.40 0ZM1003.52 308.76a3.20 4.00 0 1 0 6.40 0a3.20 4.00 0 1 0 -6.40 0ZM1007.86 308.71a3.20 4.00 0 1 0 6.40 0a3.20 4.00 0 1 0 -6.40 0ZM1012.20 308.68a3.20 4.00 0 1 0 6.40 0a3.20 4.00 0 1 0 -6.40 0Z" fill="#0000ff"/>
<path d="M581.50 385.23L585.80 384.82" fill="none" stroke="#00ffff" stroke-width="4.0"/>
<path d="M585.70 384.82L585.84 384.80L590.18 384.38L594.52 383.96L598.86 383.55L603.20 383.14L607.53 382.74L611.87 382.34L616.21 381.94L620.55 381.55L624.89 381.16L629.23 380.77L633.57 380.39L637.91 380.01L642.25 379.64L646.59 379.27L650.92 378.90L655.26 378.53L659.60 378.17L663.94 377.81L668.28 377.45L672.62 377.09L676.96 376.74L681.30 376.39L685.64 376.04L689.98 375.70L694.31 375.35L698.65 375.01L702.99 374.67L707.33 374.34L711.67 374.00L716.01 373.67L720.35 373.34L724.69 373.01L729.03 372.69L733.37 372.36L737.70 372.04L742.04 371.72L746.38 371.40L750.72 371.08L755.06 370.77L759.40 370.46L763.74 370.15L768.08 369.84L772.42 369.53L776.75 369.23L781.09 368.93L785.43 368.63L789.77 368.33L794.11 368.03L798.45 367.74L802.79 367.45L807.13 367.16L811.47 366.87L815.81 366.59L820.14 366.31L824.48 366.03L828.82 365.75L833.16 365.48L837.50 365.21L841.84 364.94L846.18 364.68L850.52 364.42L854.86 364.16L859.20 363.91L863.53 363.66L867.87 363.41L872.21 363.16L876.55 362.92L880.89 362.69L885.23 362.46L889.57 362.23L893.91 362.00L898.25 361.79L902.59 361.57L906.92 361.36L911.26 361.16L915.60 360.96L919.94 360.76L924.28 360.57L928.62 360.39L932.96 360.21L937.30 360.04L941.64 359.88L945.98 359.72L950.32 359.56L954.65 359.42L958.99 359.28L963.33 359.15L967.67 359.02L972.01 358.91L976.35 358.80L980.69 358.70L985.03 358.60L989.37 358.52L993.70 358.44L998.04 358.38L1002.38 358.32L1006.72 358.27L1011.06 358.23L1015.40 358.20" fill="none" stroke="#00ffff" stroke-width="4.0" stroke-dasharray="6.4 5.225"/>
<path d="M578.55 416.19a2.95 3.80 0 1 0 5.90 0a2.95 3.80 0 1 0 -5.90 0ZM582.89 415.57a2.95 3.80 0 1 0 5.90 0a2.95 3.80 0 1 0 -5.90 0ZM587.23 414.98a2.95 3.80 0 1 0 5.90 0a2.95 3.80 0 1 0 -5.90 0ZM591.57 414.40a2.95 3.80 0 1 0 5.90 0a2.95 3.80 0 1 0 -5.90 0ZM595.91 413.83a2.95 3.80 0 1 0 5.90 0a2.95 3.80 0 1 0 -5.90 0ZM600.25 413.28a2.95 3.80 0 1 0 5.90 0a2.95 3.80 0 1 0 -5.90 0ZM604.58 412.74a2.95 3.80 0 1 0 5.90 0a2.95 3.80 0 1 0 -5.90 0ZM608.92 412.22a2.95 3.80 0 1 0 5.90 0a2.95 3.80 0 1 0 -5.90 0ZM613.26 411.70a2.95 3.80 0 1 0 5.90 0a2.95 3.80 0 1 0 -5.90 0ZM617.60 411.20a2.95 3.80 0 1 0 5.90 0a2.95 3.80 0 1 0 -5.90 0ZM621.94 410.71a2.95 3.80 0 1 0 5.90 0a2.95 3.80 0 1 0 -5.90 0ZM626.28 410.24a2.95 3.80 0 1 0 5.90 0a2.95 3.80 0 1 0 -5.90 0ZM630.62 409.77a2.95 3.80 0 1 0 5.90 0a2.95 3.80 0 1 0 -5.90 0ZM634.96 409.31a2.95 3.80 0 1 0 5.90 0a2.95 3.80 0 1 0 -5.90 0ZM639.30 408.87a2.95 3.80 0 1 0 5.90 0a2.95 3.80 0 1 0 -5.90 0ZM643.63 408.43a2.95 3.80 0 1 0 5.90 0a2.95 3.80 0 1 0 -5.90 0ZM647.97 408.00a2.95 3.80 0 1 0 5.90 0a2.95 3.80 0 1 0 -5.90 0ZM652.31 407.58a2.95 3.80 0 1 0 5.90 0a2.95 3.80 0 1 0 -5.90 0ZM656.65 407.17a2.95 3.80 0 1 0 5.90 0a2.95 3.80 0 1 0 -5.90 0ZM660.99 406.76a2.95 3.80 0 1 0 5.90 0a2.95 3.80 0 1 0 -5.90 0ZM665.33 406.36a2.95 3.80 0 1 0 5.90 0a2.95 3.80 0 1 0 -5.90 0ZM669.67 405.97a2.95 3.80 0 1 0 5.90 0a2.95 3.80 0 1 0 -5.90 0ZM674.01 405.59a2.95 3.80 0 1 0 5.90 0a2.95 3.80 0 1 0 -5.90 0ZM678.35 405.21a2.95 3.80 0 1 0 5.90 0a2.95 3.80 0 1 0 -5.90 0ZM682.69 404.83a2.95 3.80 0 1 0 5.90 0a2.95 3.80 0 1 0 -5.90 0ZM687.02 404.46a2.95 3.80 0 1 0 5.90 0a2.95 3.80 0 1 0 -5.90 0ZM691.36 404.10a2.95 3.80 0 1 0 5.90 0a2.95 3.80 0 1 0 -5.90 0ZM695.70 403.74a2.95 3.80 0 1 0 5.90 0a2.95 3.80 0 1 0 -5.90 0ZM700.04 403.39a2.95 3.80 0 1 0 5.90 0a2.95 3.80 0 1 0 -5.90 0ZM704.38 403.04a2.95 3.80 0 1 0 5.90 0a2.95 3.80 0 1 0 -5.90 0ZM708.72 402.69a2.95 3.80 0 1 0 5.90 0a2.95 3.80 0 1 0 -5.90 0ZM713.06 402.35a2.95 3.80 0 1 0 5.90 0a2.95 3.80 0 1 0 -5.90 0ZM717.40 402.01a2.95 3.80 0 1 0 5.90 0a2.95 3.80 0 1 0 -5.90 0ZM721.74 401.67a2.95 3.80 0 1 0 5.90 0a2.95 3.80 0 1 0 -5.90 0ZM726.08 401.34a2.95 3.80 0 1 0 5.90 0a2.95 3.80 0 1 0 -5.90 0ZM730.41 401.01a2.95 3.80 0 1 0 5.90 0a2.95 3.80 0 1 0 -5.90 0ZM734.75 400.68a2.95 3.80 0 1 0 5.90 0a2.95 3.80 0 1 0 -5.90 0ZM739.09 400.36a2.95 3.80 0 1 0 5.90 0a2.95 3.80 0 1 0 -5.90 0ZM743.43 400.03a2.95 3.80 0 1 0 5.90 0a2.95 3.80 0 1 0 -5.90 0ZM747.77 399.71a2.95 3.80 0 1 0 5.90 0a2.95 3.80 0 1 0 -5.90 0ZM752.11 399.39a2.95 3.80 0 1 0 5.90 0a2.95 3.80 0 1 0 -5.90 0ZM756.45 399.08a2.95 3.80 0 1 0 5.90 0a2.95 3.80 0 1 0 -5.90 0ZM760.79 398.76a2.95 3.80 0 1 0 5.90 0a2.95 3.80 0 1 0 -5.90 0ZM765.13 398.45a2.95 3.80 0 1 0 5.90 0a2.95 3.80 0 1 0 -5.90 0ZM769.47 398.14a2.95 3.80 0 1 0 5.90 0a2.95 3.80 0 1 0 -5.90 0ZM773.80 397.83a2.95 3.80 0 1 0 5.90 0a2.95 3.80 0 1 0 -5.90 0ZM778.14 397.52a2.95 3.80 0 1 0 5.90 0a2.95 3.80 0 1 0 -5.90 0ZM782.48 397.21a2.95 3.80 0 1 0 5.90 0a2.95 3.80 0 1 0 -5.90 0ZM786.82 396.90a2.95 3.80 0 1 0 5.90 0a2.95 3.80 0 1 0 -5.90 0ZM791.16 396.60a2.95 3.80 0 1 0 5.90 0a2.95 3.80 0 1 0 -5.90 0ZM795.50 396.29a2.95 3.80 0 1 0 5.90 0a2.95 3.80 0 1 0 -5.90 0ZM799.84 395.99a2.95 3.80 0 1 0 5.90 0a2.95 3.80 0 1 0 -5.90 0ZM804.18 395.69a2.95 3.80 0 1 0 5.90 0a2.95 3.80 0 1 0 -5.90 0ZM808.52 395.39a2.95 3.80 0 1 0 5.90 0a2.95 3.80 0 1 0 -5.90 0ZM812.86 395.09a2.95 3.80 0 1 0 5.90 0a2.95 3.80 0 1 0 -5.90 0ZM817.19 394.79a2.95 3.80 0 1 0 5.90 0a2.95 3.80 0 1 0 -5.90 0ZM821.53 394.49a2.95 3.80 0 1 0 5.90 0a2.95 3.80 0 1 0 -5.90 0ZM825.87 394.20a2.95 3.80 0 1 0 5.90 0a2.95 3.80 0 1 0 -5.90 0ZM830.21 393.91a2.95 3.80 0 1 0 5.90 0a2.95 3.80 0 1 0 -5.90 0ZM834.55 393.62a2.95 3.80 0 1 0 5.90 0a2.95 3.80 0 1 0 -5.90 0ZM838.89 393.33a2.95 3.80 0 1 0 5.90 0a2.95 3.80 0 1 0 -5.90 0ZM843.23 393.04a2.95 3.80 0 1 0 5.90 0a2.95 3.80 0 1 0 -5.90 0ZM847.57 392.76a2.95 3.80 0 1 0 5.90 0a2.95 3.80 0 1 0 -5.90 0ZM851.91 392.47a2.95 3.80 0 1 0 5.90 0a2.95 3.80 0 1 0 -5.90 0ZM856.25 392.20a2.95 3.80 0 1 0 5.90 0a2.95 3.80 0 1 0 -5.90 0ZM860.58 391.92a2.95 3.80 0 1 0 5.90 0a2.95 3.80 0 1 0 -5.90 0ZM864.92 391.64a2.95 3.80 0 1 0 5.90 0a2.95 3.80 0 1 0 -5.90 0ZM869.26 391.37a2.95 3.80 0 1 0 5.90 0a2.95 3.80 0 1 0 -5.90 0ZM873.60 391.11a2.95 3.80 0 1 0 5.90 0a2.95 3.80 0 1 0 -5.90 0ZM877.94 390.84a2.95 3.80 0 1 0 5.90 0a2.95 3.80 0 1 0 -5.90 0ZM882.28 390.58a2.95 3.80 0 1 0 5.90 0a2.95 3.80 0 1 0 -5.90 0ZM886.62 390.33a2.95 3.80 0 1 0 5.90 0a2.95 3.80 0 1 0 -5.90 0ZM890.96 390.07a2.95 3.80 0 1 0 5.90 0a2.95 3.80 0 1 0 -5.90 0ZM895.30 389.83a2.95 3.80 0 1 0 5.90 0a2.95 3.80 0 1 0 -5.90 0ZM899.64 389.59a2.95 3.80 0 1 0 5.90 0a2.95 3.80 0 1 0 -5.90 0ZM903.97 389.35a2.95 3.80 0 1 0 5.90 0a2.95 3.80 0 1 0 -5.90 0ZM908.31 389.12a2.95 3.80 0 1 0 5.90 0a2.95 3.80 0 1 0 -5.90 0ZM912.65 388.89a2.95 3.80 0 1 0 5.90 0a2.95 3.80 0 1 0 -5.90 0ZM916.99 388.67a2.95 3.80 0 1 0 5.90 0a2.95 3.80 0 1 0 -5.90 0ZM921.33 388.46a2.95 3.80 0 1 0 5.90 0a2.95 3.80 0 1 0 -5.90 0ZM925.67 388.26a2.95 3.80 0 1 0 5.90 0a2.95 3.80 0 1 0 -5.90 0ZM930.01 388.06a2.95 3.80 0 1 0 5.90 0a2.95 3.80 0 1 0 -5.90 0ZM934.35 387.87a2.95 3.80 0 1 0 5.90 0a2.95 3.80 0 1 0 -5.90 0ZM938.69 387.69a2.95 3.80 0 1 0 5.90 0a2.95 3.80 0 1 0 -5.90 0ZM943.03 387.51a2.95 3.80 0 1 0 5.90 0a2.95 3.80 0 1 0 -5.90 0ZM947.37 387.35a2.95 3.80 0 1 0 5.90 0a2.95 3.80 0 1 0 -5.90 0ZM951.70 387.19a2.95 3.80 0 1 0 5.90 0a2.95 3.80 0 1 0 -5.90 0ZM956.04 387.05a2.95 3.80 0 1 0 5.90 0a2.95 3.80 0 1 0 -5.90 0ZM960.38 386.91a2.95 3.80 0 1 0 5.90 0a2.95 3.80 0 1 0 -5.90 0ZM964.72 386.79a2.95 3.80 0 1 0 5.90 0a2.95 3.80 0 1 0 -5.90 0ZM969.06 386.68a2.95 3.80 0 1 0 5.90 0a2.95 3.80 0 1 0 -5.90 0ZM973.40 386.58a2.95 3.80 0 1 0 5.90 0a2.95 3.80 0 1 0 -5.90 0ZM977.74 386.49a2.95 3.80 0 1 0 5.90 0a2.95 3.80 0 1 0 -5.90 0ZM982.08 386.42a2.95 3.80 0 1 0 5.90 0a2.95 3.80 0 1 0 -5.90 0ZM986.42 386.36a2.95 3.80 0 1 0 5.90 0a2.95 3.80 0 1 0 -5.90 0ZM990.75 386.31a2.95 3.80 0 1 0 5.90 0a2.95 3.80 0 1 0 -5.90 0ZM995.09 386.28a2.95 3.80 0 1 0 5.90 0a2.95 3.80 0 1 0 -5.90 0ZM999.43 386.26a2.95 3.80 0 1 0 5.90 0a2.95 3.80 0 1 0 -5.90 0ZM1003.77 386.26a2.95 3.80 0 1 0 5.90 0a2.95 3.80 0 1 0 -5.90 0ZM1008.11 386.28a2.95 3.80 0 1 0 5.90 0a2.95 3.80 0 1 0 -5.90 0ZM1012.45 386.32a2.95 3.80 0 1 0 5.90 0a2.95 3.80 0 1 0 -5.90 0Z" fill="none" stroke="#00ff00" stroke-width="3.9"/>
<path d="M581.50 435.66L585.84 435.01L590.18 434.38L594.52 433.77L598.86 433.18L603.20 432.61L607.53 432.06L611.87 431.52L616.21 431.00L620.55 430.49L624.89 430.00L629.23 429.52L633.57 429.05L637.91 428.60L642.25 428.16L646.59 427.73L650.92 427.30L655.26 426.89L659.60 426.49L663.94 426.10L668.28 425.71L672.62 425.33L676.96 424.96L681.30 424.60L685.64 424.24L689.98 423.88L694.31 423.53L698.65 423.19L702.99 422.85L707.33 422.51L711.67 422.18L716.01 421.85L720.35 421.53L724.69 421.20L729.03 420.88L733.37 420.56L737.70 420.24L742.04 419.92L746.38 419.60L750.72 419.29L755.06 418.97L759.40 418.66L763.74 418.34L768.08 418.03L772.42 417.71L776.75 417.40L781.09 417.08L785.43 416.77L789.77 416.46L794.11 416.14L798.45 415.82L802.79 415.51L807.13 415.19L811.47 414.88L815.81 414.56L820.14 414.24L824.48 413.92L828.82 413.61L833.16 413.29L837.50 412.97L841.84 412.66L846.18 412.34L850.52 412.03L854.86 411.72L859.20 411.40L863.53 411.09L867.87 410.79L872.21 410.48L876.55 410.18L880.89 409.87L885.23 409.58L889.57 409.28L893.91 408.99L898.25 408.70L902.59 408.42L906.92 408.15L911.26 407.88L915.60 407.61L919.94 407.35L924.28 407.10L928.62 406.86L932.96 406.62L937.30 406.39L941.64 406.17L945.98 405.97L950.32 405.77L954.65 405.58L958.99 405.40L963.33 405.24L967.67 405.09L972.01 404.95L976.35 404.83L980.69 404.73L985.03 404.63L989.37 404.56L993.70 404.50L998.04 404.47L1002.38 404.45L1006.72 404.45L1011.06 404.47L1015.40 404.51" fill="none" stroke="#ff0000" stroke-width="4.2" stroke-linejoin="round"/>
</g>
<rect x="710.8" y="148.8" width="80.7" height="119.3" fill="#fff" stroke="#2b2b2b" stroke-width="1.2"/>
<path d="M710.5 148.6H791.75V268.4H710.5" fill="none" stroke="#2b2b2b" stroke-width="1.9"/>
<text transform="translate(749.1,163.75) scale(0.79,1)" font-family="'Liberation Sans', Arial, Helvetica, sans-serif" font-size="12.2" fill="#161616" stroke="#161616" stroke-width="0.25">Bi<tspan dy="6.3" font-size="9.2" stroke="none">1</tspan><tspan dy="-6.3" dx="0.2"> = </tspan><tspan dx="-0.6">0.1</tspan></text>
<path d="M731.30 157.70L734.55 164.85L728.05 164.85Z" fill="#fff" stroke="#ff00ff" stroke-width="2.4"/>
<text transform="translate(749.1,187.25) scale(0.79,1)" font-family="'Liberation Sans', Arial, Helvetica, sans-serif" font-size="12.2" fill="#161616" stroke="#161616" stroke-width="0.25">Bi<tspan dy="6.3" font-size="9.2" stroke="none">1</tspan><tspan dy="-6.3" dx="0.2"> = </tspan><tspan dx="-0.6">0.5</tspan></text>
<path d="M728.10 185.85a3.20 4.00 0 1 0 6.40 0a3.20 4.00 0 1 0 -6.40 0Z" fill="#0000ff"/>
<text transform="translate(749.1,209.75) scale(0.79,1)" font-family="'Liberation Sans', Arial, Helvetica, sans-serif" font-size="12.2" fill="#161616" stroke="#161616" stroke-width="0.25">Bi<tspan dy="6.3" font-size="9.2" stroke="none">1</tspan><tspan dy="-6.3" dx="0.2"> = </tspan><tspan dx="-0.6">1</tspan></text>
<path d="M716.25 208.35H746.25" stroke="#00ffff" stroke-width="4.0" stroke-dasharray="6.5 5.25" fill="none"/>
<text transform="translate(749.1,232.75) scale(0.79,1)" font-family="'Liberation Sans', Arial, Helvetica, sans-serif" font-size="12.2" fill="#161616" stroke="#161616" stroke-width="0.25">Bi<tspan dy="6.3" font-size="9.2" stroke="none">1</tspan><tspan dy="-6.3" dx="0.2"> = </tspan><tspan dx="-0.6">2</tspan></text>
<path d="M728.35 231.35a2.95 3.80 0 1 0 5.90 0a2.95 3.80 0 1 0 -5.90 0Z" fill="none" stroke="#00ff00" stroke-width="3.9"/>
<text transform="translate(749.1,255.25) scale(0.79,1)" font-family="'Liberation Sans', Arial, Helvetica, sans-serif" font-size="12.2" fill="#161616" stroke="#161616" stroke-width="0.25">Bi<tspan dy="6.3" font-size="9.2" stroke="none">1</tspan><tspan dy="-6.3" dx="0.2"> = </tspan><tspan dx="-0.6">5</tspan></text>
<path d="M716.25 253.85H746.25" stroke="#ff0000" stroke-width="4.2" fill="none"/>
<text transform="translate(798.5,486.9) scale(0.9,1)" font-family="'Liberation Serif', 'Times New Roman', serif" font-size="25.5" font-weight="normal" text-anchor="middle" fill="#000" stroke="#000" stroke-width="0.35">η</text>
<text transform="translate(549.5,231.8) rotate(-90) scale(1,0.7)" font-family="'Liberation Serif', 'Times New Roman', serif" font-size="26.5" text-anchor="middle" fill="#000" stroke="#000" stroke-width="0.5">θ</text>
<text x="775.9" y="540.4" font-family="'Liberation Serif', 'Times New Roman', serif" font-size="29.6" text-anchor="middle" fill="#000">(<tspan font-weight="bold">b</tspan>)</text>
</svg></body></html>
